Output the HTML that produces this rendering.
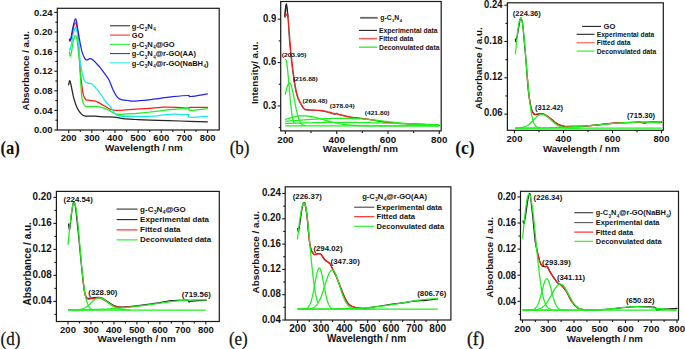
<!DOCTYPE html>
<html><head><meta charset="utf-8"><style>
html,body{margin:0;padding:0;background:#fff;}
body{width:685px;height:349px;overflow:hidden;}
svg{display:block;}
</style></head><body>
<svg width="685" height="349" viewBox="0 0 685 349"><rect x="57.3" y="8.3" width="161.9" height="121.7" fill="none" stroke="#1a1a1a" stroke-width="1.2"/>
<line x1="54.3" y1="130" x2="57.3" y2="130" stroke="#1a1a1a" stroke-width="1.1"/>
<text transform="translate(52.5 133.14) scale(0.96 1)" font-family='"Liberation Sans", sans-serif' font-size="9.9" font-weight="bold" text-anchor="end" fill="#111">0.00</text>
<line x1="54.3" y1="110.4" x2="57.3" y2="110.4" stroke="#1a1a1a" stroke-width="1.1"/>
<text transform="translate(52.5 113.54) scale(0.96 1)" font-family='"Liberation Sans", sans-serif' font-size="9.9" font-weight="bold" text-anchor="end" fill="#111">0.04</text>
<line x1="54.3" y1="90.8" x2="57.3" y2="90.8" stroke="#1a1a1a" stroke-width="1.1"/>
<text transform="translate(52.5 93.94) scale(0.96 1)" font-family='"Liberation Sans", sans-serif' font-size="9.9" font-weight="bold" text-anchor="end" fill="#111">0.08</text>
<line x1="54.3" y1="71.2" x2="57.3" y2="71.2" stroke="#1a1a1a" stroke-width="1.1"/>
<text transform="translate(52.5 74.34) scale(0.96 1)" font-family='"Liberation Sans", sans-serif' font-size="9.9" font-weight="bold" text-anchor="end" fill="#111">0.12</text>
<line x1="54.3" y1="51.6" x2="57.3" y2="51.6" stroke="#1a1a1a" stroke-width="1.1"/>
<text transform="translate(52.5 54.74) scale(0.96 1)" font-family='"Liberation Sans", sans-serif' font-size="9.9" font-weight="bold" text-anchor="end" fill="#111">0.16</text>
<line x1="54.3" y1="32" x2="57.3" y2="32" stroke="#1a1a1a" stroke-width="1.1"/>
<text transform="translate(52.5 35.14) scale(0.96 1)" font-family='"Liberation Sans", sans-serif' font-size="9.9" font-weight="bold" text-anchor="end" fill="#111">0.20</text>
<line x1="54.3" y1="12.4" x2="57.3" y2="12.4" stroke="#1a1a1a" stroke-width="1.1"/>
<text transform="translate(52.5 15.54) scale(0.96 1)" font-family='"Liberation Sans", sans-serif' font-size="9.9" font-weight="bold" text-anchor="end" fill="#111">0.24</text>
<line x1="55.3" y1="120.2" x2="57.3" y2="120.2" stroke="#1a1a1a" stroke-width="1.1"/>
<line x1="55.3" y1="100.6" x2="57.3" y2="100.6" stroke="#1a1a1a" stroke-width="1.1"/>
<line x1="55.3" y1="81" x2="57.3" y2="81" stroke="#1a1a1a" stroke-width="1.1"/>
<line x1="55.3" y1="61.4" x2="57.3" y2="61.4" stroke="#1a1a1a" stroke-width="1.1"/>
<line x1="55.3" y1="41.8" x2="57.3" y2="41.8" stroke="#1a1a1a" stroke-width="1.1"/>
<line x1="55.3" y1="22.2" x2="57.3" y2="22.2" stroke="#1a1a1a" stroke-width="1.1"/>
<line x1="68.7" y1="130" x2="68.7" y2="133" stroke="#1a1a1a" stroke-width="1.1"/>
<text x="68.7" y="141.2" font-family='"Liberation Sans", sans-serif' font-size="9.5" font-weight="bold" text-anchor="middle" fill="#111">200</text>
<line x1="91.85" y1="130" x2="91.85" y2="133" stroke="#1a1a1a" stroke-width="1.1"/>
<text x="91.85" y="141.2" font-family='"Liberation Sans", sans-serif' font-size="9.5" font-weight="bold" text-anchor="middle" fill="#111">300</text>
<line x1="115" y1="130" x2="115" y2="133" stroke="#1a1a1a" stroke-width="1.1"/>
<text x="115" y="141.2" font-family='"Liberation Sans", sans-serif' font-size="9.5" font-weight="bold" text-anchor="middle" fill="#111">400</text>
<line x1="138.15" y1="130" x2="138.15" y2="133" stroke="#1a1a1a" stroke-width="1.1"/>
<text x="138.15" y="141.2" font-family='"Liberation Sans", sans-serif' font-size="9.5" font-weight="bold" text-anchor="middle" fill="#111">500</text>
<line x1="161.3" y1="130" x2="161.3" y2="133" stroke="#1a1a1a" stroke-width="1.1"/>
<text x="161.3" y="141.2" font-family='"Liberation Sans", sans-serif' font-size="9.5" font-weight="bold" text-anchor="middle" fill="#111">600</text>
<line x1="184.45" y1="130" x2="184.45" y2="133" stroke="#1a1a1a" stroke-width="1.1"/>
<text x="184.45" y="141.2" font-family='"Liberation Sans", sans-serif' font-size="9.5" font-weight="bold" text-anchor="middle" fill="#111">700</text>
<line x1="207.6" y1="130" x2="207.6" y2="133" stroke="#1a1a1a" stroke-width="1.1"/>
<text x="207.6" y="141.2" font-family='"Liberation Sans", sans-serif' font-size="9.5" font-weight="bold" text-anchor="middle" fill="#111">800</text>
<line x1="80.28" y1="130" x2="80.28" y2="132" stroke="#1a1a1a" stroke-width="1.1"/>
<line x1="103.43" y1="130" x2="103.43" y2="132" stroke="#1a1a1a" stroke-width="1.1"/>
<line x1="126.58" y1="130" x2="126.58" y2="132" stroke="#1a1a1a" stroke-width="1.1"/>
<line x1="149.73" y1="130" x2="149.73" y2="132" stroke="#1a1a1a" stroke-width="1.1"/>
<line x1="172.88" y1="130" x2="172.88" y2="132" stroke="#1a1a1a" stroke-width="1.1"/>
<line x1="196.03" y1="130" x2="196.03" y2="132" stroke="#1a1a1a" stroke-width="1.1"/>
<text x="105" y="150.9" font-family='"Liberation Sans", sans-serif' font-size="9.85" font-weight="bold" text-anchor="start" fill="#111">Wavelength / nm</text>
<text x="28.6" y="70.8" font-family='"Liberation Sans", sans-serif' font-size="9.5" font-weight="bold" text-anchor="middle" fill="#111" transform="rotate(-90 28.6 70.8)">Absorbance / a.u.</text>
<text transform="translate(0.4 153.6) scale(0.9 1)" font-family='"Liberation Serif", serif' font-size="18.5" font-weight="bold" text-anchor="start" fill="#111">(a)</text>
<path d="M68.6,84.9 C68.8,84.18 69.37,80.45 69.8,80.6 C70.23,80.75 70.55,82.93 71.2,85.8 C71.85,88.67 72.7,94.1 73.7,97.8 C74.7,101.5 75.9,105.28 77.2,108 C78.5,110.72 80.08,112.75 81.5,114.1 C82.92,115.45 83.45,115.75 85.7,116.1 C87.95,116.45 91.78,116.08 95,116.2 C98.22,116.32 101.5,116.62 105,116.8 C108.5,116.98 113.02,117 116,117.3 C118.98,117.6 119.6,118.23 122.9,118.6 C126.2,118.97 131.28,119.23 135.8,119.5 C140.32,119.77 142.63,119.95 150,120.2 C157.37,120.45 170.43,120.73 180,121 C189.57,121.27 202.83,121.67 207.4,121.8" fill="none" stroke="#222" stroke-width="1.25" stroke-linejoin="round" stroke-linecap="round" opacity="1.0"/>
<path d="M69.4,39.8 C69.52,40.03 69.75,41.58 70.1,41.2 C70.45,40.82 70.93,39.78 71.5,37.5 C72.07,35.22 72.88,29.95 73.5,27.5 C74.12,25.05 74.65,23.05 75.2,22.8 C75.75,22.55 76.33,23.8 76.8,26 C77.27,28.2 77.6,31.17 78,36 C78.4,40.83 78.83,49.33 79.2,55 C79.57,60.67 79.82,65.45 80.2,70 C80.58,74.55 81,78.25 81.5,82.3 C82,86.35 82.5,91.43 83.2,94.3 C83.9,97.17 84.57,98.5 85.7,99.5 C86.83,100.5 88.57,100.07 90,100.3 C91.43,100.53 93,100.6 94.3,100.9 C95.6,101.2 96.52,101.48 97.8,102.1 C99.08,102.72 100.7,103.87 102,104.6 C103.3,105.33 104.27,105.73 105.6,106.5 C106.93,107.27 108.4,108.55 110,109.2 C111.6,109.85 113.05,110.25 115.2,110.4 C117.35,110.55 119.47,110.3 122.9,110.1 C126.33,109.9 131.28,109.5 135.8,109.2 C140.32,108.9 145.3,108.63 150,108.3 C154.7,107.97 159.4,107.35 164,107.2 C168.6,107.05 173.68,107.27 177.6,107.4 C181.52,107.53 185.35,108 187.5,108 C189.65,108 187.18,107.5 190.5,107.4 C193.82,107.3 204.58,107.4 207.4,107.4" fill="none" stroke="#ff1a1a" stroke-width="1.25" stroke-linejoin="round" stroke-linecap="round" opacity="1.0"/>
<path d="M69.4,52 C69.53,52.72 69.85,56.3 70.2,56.3 C70.55,56.3 70.95,54.72 71.5,52 C72.05,49.28 72.83,42.78 73.5,40 C74.17,37.22 74.92,35.3 75.5,35.3 C76.08,35.3 76.53,37.33 77,40 C77.47,42.67 77.87,47.47 78.3,51.3 C78.73,55.13 79.07,55.83 79.6,63 C80.13,70.17 80.9,87.65 81.5,94.3 C82.1,100.95 82.5,100.88 83.2,102.9 C83.9,104.92 84.57,105.77 85.7,106.4 C86.83,107.03 88.42,106.7 90,106.7 C91.58,106.7 93.48,106.32 95.2,106.4 C96.92,106.48 98.5,106.78 100.3,107.2 C102.1,107.62 104.38,108.28 106,108.9 C107.62,109.52 108.18,110.02 110,110.9 C111.82,111.78 114.03,113.7 116.9,114.2 C119.77,114.7 123.33,114.08 127.2,113.9 C131.07,113.72 136.3,113.42 140.1,113.1 C143.9,112.78 146.63,112.37 150,112 C153.37,111.63 156.93,111.3 160.3,110.9 C163.67,110.5 165.67,110.02 170.2,109.6 C174.73,109.18 184.37,108.53 187.5,108.4 C190.63,108.27 188.5,108.48 189,108.8 C189.5,109.12 187.43,110.32 190.5,110.3 C193.57,110.28 204.58,108.97 207.4,108.7" fill="none" stroke="#1cf01c" stroke-width="1.25" stroke-linejoin="round" stroke-linecap="round" opacity="1.0"/>
<path d="M69.4,49.1 C69.5,49.25 69.65,50.85 70,50 C70.35,49.15 70.92,46.83 71.5,44 C72.08,41.17 72.83,35.73 73.5,33 C74.17,30.27 74.92,27.93 75.5,27.6 C76.08,27.27 76.5,28.6 77,31 C77.5,33.4 78,37.17 78.5,42 C79,46.83 79.6,56 80,60 C80.4,64 80.52,63.72 80.9,66 C81.28,68.28 81.63,71.12 82.3,73.7 C82.97,76.28 83.9,79.92 84.9,81.5 C85.9,83.08 87.15,82.78 88.3,83.2 C89.45,83.62 90.65,83.28 91.8,84 C92.95,84.72 93.78,85.92 95.2,87.5 C96.62,89.08 98.57,91.17 100.3,93.5 C102.03,95.83 103.98,99.38 105.6,101.5 C107.22,103.62 108.7,104.57 110,106.2 C111.3,107.83 112.25,109.78 113.4,111.3 C114.55,112.82 114.6,114.45 116.9,115.3 C119.2,116.15 123.35,116.23 127.2,116.4 C131.05,116.57 136.2,116.32 140,116.3 C143.8,116.28 147.02,116.38 150,116.3 C152.98,116.22 154.73,116.13 157.9,115.8 C161.07,115.47 164.07,114.5 169,114.3 C173.93,114.1 184.23,114.45 187.5,114.6 C190.77,114.75 188.1,114.75 188.6,115.2 C189.1,115.65 187.37,117.1 190.5,117.3 C193.63,117.5 204.58,116.55 207.4,116.4" fill="none" stroke="#14eaea" stroke-width="1.25" stroke-linejoin="round" stroke-linecap="round" opacity="1.0"/>
<path d="M69.4,39.1 C69.5,39.33 69.73,40.68 70,40.5 C70.27,40.32 70.5,40.25 71,38 C71.5,35.75 72.3,30.17 73,27 C73.7,23.83 74.62,19.92 75.2,19 C75.78,18.08 76.1,19.95 76.5,21.5 C76.9,23.05 77.05,25.02 77.6,28.3 C78.15,31.58 79.08,37.37 79.8,41.2 C80.52,45.03 81.07,48.43 81.9,51.3 C82.73,54.17 83.97,56.95 84.8,58.4 C85.63,59.85 86.07,59.95 86.9,60 C87.73,60.05 88.83,58.73 89.8,58.7 C90.77,58.67 91.5,58.92 92.7,59.8 C93.9,60.68 95.78,62.73 97,64 C98.22,65.27 98.57,65.58 100,67.4 C101.43,69.22 104.05,72.72 105.6,74.9 C107.15,77.08 108.07,78.02 109.3,80.5 C110.53,82.98 111.77,87.17 113,89.8 C114.23,92.43 115.45,94.72 116.7,96.3 C117.95,97.88 118.63,98.6 120.5,99.3 C122.37,100 125.63,100.18 127.9,100.5 C130.17,100.82 131.35,101.23 134.1,101.2 C136.85,101.17 140.03,100.78 144.4,100.3 C148.77,99.82 155.58,98.9 160.3,98.3 C165.02,97.7 168.07,97.17 172.7,96.7 C177.33,96.23 185.13,95.53 188.1,95.5 C191.07,95.47 187.28,96.77 190.5,96.5 C193.72,96.23 204.58,94.33 207.4,93.9" fill="none" stroke="#2323ee" stroke-width="1.25" stroke-linejoin="round" stroke-linecap="round" opacity="1.0"/>
<line x1="110" y1="25.8" x2="130" y2="25.8" stroke="#222" stroke-width="1.0"/>
<text x="131.8" y="28.5" font-family='"Liberation Sans", sans-serif' font-size="7.5" font-weight="bold" text-anchor="start" fill="#111">g-C<tspan font-size="4.5" dx="0.45" dy="2.4">3</tspan><tspan dx="0" dy="-2.4">N</tspan><tspan font-size="4.5" dx="0.45" dy="2.4">4</tspan></text>
<line x1="110" y1="35.1" x2="130" y2="35.1" stroke="#ff1a1a" stroke-width="1.0"/>
<text x="131.8" y="37.8" font-family='"Liberation Sans", sans-serif' font-size="7.5" font-weight="bold" text-anchor="start" fill="#111">GO</text>
<line x1="110" y1="44.3" x2="130" y2="44.3" stroke="#1cf01c" stroke-width="1.0"/>
<text x="131.8" y="47" font-family='"Liberation Sans", sans-serif' font-size="7.5" font-weight="bold" text-anchor="start" fill="#111">g-C<tspan font-size="4.5" dx="0.45" dy="2.4">3</tspan><tspan dx="0" dy="-2.4">N</tspan><tspan font-size="4.5" dx="0.45" dy="2.4">4</tspan><tspan dx="0" dy="-2.4"><tspan stroke="#111" stroke-width="0.12">@</tspan>GO</tspan></text>
<line x1="110" y1="53.6" x2="130" y2="53.6" stroke="#2323ee" stroke-width="1.0"/>
<text x="131.8" y="56.3" font-family='"Liberation Sans", sans-serif' font-size="7.5" font-weight="bold" text-anchor="start" fill="#111">g-C<tspan font-size="4.5" dx="0.45" dy="2.4">3</tspan><tspan dx="0" dy="-2.4">N</tspan><tspan font-size="4.5" dx="0.45" dy="2.4">4</tspan><tspan dx="0" dy="-2.4"><tspan stroke="#111" stroke-width="0.12">@</tspan>r-GO(AA)</tspan></text>
<line x1="110" y1="62.9" x2="130" y2="62.9" stroke="#14eaea" stroke-width="1.0"/>
<text x="131.8" y="65.6" font-family='"Liberation Sans", sans-serif' font-size="7.5" font-weight="bold" text-anchor="start" fill="#111">g-C<tspan font-size="4.5" dx="0.45" dy="2.4">3</tspan><tspan dx="0" dy="-2.4">N</tspan><tspan font-size="4.5" dx="0.45" dy="2.4">4</tspan><tspan dx="0" dy="-2.4"><tspan stroke="#111" stroke-width="0.12">@</tspan>r-GO(NaBH</tspan><tspan font-size="4.5" dx="0.45" dy="2.4">4</tspan><tspan dx="0" dy="-2.4">)</tspan></text>
<rect x="280.7" y="1.5" width="160.5" height="129.4" fill="none" stroke="#1a1a1a" stroke-width="1.2"/>
<line x1="277.7" y1="105.9" x2="280.7" y2="105.9" stroke="#1a1a1a" stroke-width="1.1"/>
<text transform="translate(276.3 108.71) scale(0.85 1)" font-family='"Liberation Sans", sans-serif' font-size="11.2" font-weight="bold" text-anchor="end" fill="#111">0.3</text>
<line x1="277.7" y1="62.55" x2="280.7" y2="62.55" stroke="#1a1a1a" stroke-width="1.1"/>
<text transform="translate(276.3 65.36) scale(0.85 1)" font-family='"Liberation Sans", sans-serif' font-size="11.2" font-weight="bold" text-anchor="end" fill="#111">0.6</text>
<line x1="277.7" y1="19.2" x2="280.7" y2="19.2" stroke="#1a1a1a" stroke-width="1.1"/>
<text transform="translate(276.3 22.01) scale(0.85 1)" font-family='"Liberation Sans", sans-serif' font-size="11.2" font-weight="bold" text-anchor="end" fill="#111">0.9</text>
<line x1="278.7" y1="127.58" x2="280.7" y2="127.58" stroke="#1a1a1a" stroke-width="1.1"/>
<line x1="278.7" y1="84.22" x2="280.7" y2="84.22" stroke="#1a1a1a" stroke-width="1.1"/>
<line x1="278.7" y1="40.88" x2="280.7" y2="40.88" stroke="#1a1a1a" stroke-width="1.1"/>
<line x1="285.4" y1="130.9" x2="285.4" y2="133.9" stroke="#1a1a1a" stroke-width="1.1"/>
<text x="285.4" y="143" font-family='"Liberation Sans", sans-serif' font-size="9.8" font-weight="bold" text-anchor="middle" fill="#111">200</text>
<line x1="336.7" y1="130.9" x2="336.7" y2="133.9" stroke="#1a1a1a" stroke-width="1.1"/>
<text x="336.7" y="143" font-family='"Liberation Sans", sans-serif' font-size="9.8" font-weight="bold" text-anchor="middle" fill="#111">400</text>
<line x1="388" y1="130.9" x2="388" y2="133.9" stroke="#1a1a1a" stroke-width="1.1"/>
<text x="388" y="143" font-family='"Liberation Sans", sans-serif' font-size="9.8" font-weight="bold" text-anchor="middle" fill="#111">600</text>
<line x1="439.3" y1="130.9" x2="439.3" y2="133.9" stroke="#1a1a1a" stroke-width="1.1"/>
<text x="439.3" y="143" font-family='"Liberation Sans", sans-serif' font-size="9.8" font-weight="bold" text-anchor="middle" fill="#111">800</text>
<line x1="311.05" y1="130.9" x2="311.05" y2="132.9" stroke="#1a1a1a" stroke-width="1.1"/>
<line x1="362.35" y1="130.9" x2="362.35" y2="132.9" stroke="#1a1a1a" stroke-width="1.1"/>
<line x1="413.65" y1="130.9" x2="413.65" y2="132.9" stroke="#1a1a1a" stroke-width="1.1"/>
<text x="322.8" y="151.5" font-family='"Liberation Sans", sans-serif' font-size="9.85" font-weight="bold" text-anchor="start" fill="#111">Wavelength/ nm</text>
<text x="258.4" y="72.8" font-family='"Liberation Sans", sans-serif' font-size="9.8" font-weight="bold" text-anchor="middle" fill="#111" transform="rotate(-90 258.4 72.8)">Intensity/ a.u.</text>
<text transform="translate(229.7 153.6) scale(0.92 1)" font-family='"Liberation Serif", serif' font-size="18.5" font-weight="normal" text-anchor="start" fill="#111" stroke="#111" stroke-width="0.25">(b)</text>
<path d="M284.55,16.3 C284.67,15.08 285,10.95 285.25,9 C285.5,7.05 285.78,4.6 286.05,4.6 C286.32,4.6 286.53,6.77 286.85,9 C287.17,11.23 287.53,12.83 287.95,18 C288.37,23.17 288.9,34 289.35,40 C289.8,46 290.03,48.25 290.65,54 C291.27,59.75 292.3,68.83 293.05,74.5 C293.8,80.17 294.47,84.33 295.15,88 C295.83,91.67 296.45,94.22 297.15,96.5 C297.85,98.78 298.65,100.23 299.35,101.7 C300.05,103.17 300.68,104.13 301.35,105.3 C302.02,106.47 302.72,107.93 303.35,108.7 C303.98,109.47 304.1,109.65 305.15,109.9 C306.2,110.15 307.1,110.07 309.65,110.2 C312.2,110.33 317.22,110.27 320.45,110.7 C323.68,111.13 326.75,112.18 329.05,112.8 C331.35,113.42 333.12,114.17 334.25,114.4 C335.38,114.63 335.4,114.47 335.85,114.2 C336.3,113.93 336.58,112.8 336.95,112.8 C337.32,112.8 336.15,113.53 338.05,114.2 C339.95,114.87 344.58,116.1 348.35,116.8 C352.12,117.5 356.77,117.9 360.65,118.4 C364.53,118.9 367.17,119.12 371.65,119.8 C376.13,120.48 382.05,121.87 387.55,122.5 C393.05,123.13 398.92,123.3 404.65,123.6 C410.38,123.9 416.23,124.03 421.95,124.3 C427.67,124.57 436.12,125.05 438.95,125.2" fill="none" stroke="#222" stroke-width="0.8" stroke-linejoin="round" stroke-linecap="round" opacity="1.0"/>
<path d="M284.9,16.8 C285,15.58 285.27,11.63 285.5,9.5 C285.73,7.37 286.03,4.25 286.3,4 C286.57,3.75 286.82,5.92 287.1,8 C287.38,10.08 287.85,15.08 288,16.5" fill="none" stroke="#222" stroke-width="1.25" stroke-linejoin="round" stroke-linecap="round" opacity="1.0"/>
<path d="M285.1,17 C285.3,16.7 285.92,15.65 286.3,15.2 C286.68,14.75 287.03,13.17 287.4,14.3 C287.77,15.43 288.08,17.72 288.5,22 C288.92,26.28 289.45,34.67 289.9,40 C290.35,45.33 290.58,48.25 291.2,54 C291.82,59.75 292.85,68.83 293.6,74.5 C294.35,80.17 295.02,84.33 295.7,88 C296.38,91.67 297,94.25 297.7,96.5 C298.4,98.75 299.2,100.08 299.9,101.5 C300.6,102.92 301.23,103.87 301.9,105 C302.57,106.13 303.3,107.57 303.9,108.3 C304.5,109.03 304.48,109.13 305.5,109.4 C306.52,109.67 307.45,109.73 310,109.9 C312.55,110.07 317.57,110.02 320.8,110.4 C324.03,110.78 327.1,111.67 329.4,112.2 C331.7,112.73 332.83,113.2 334.6,113.6 C336.37,114 337.65,114.07 340,114.6 C342.35,115.13 345.2,116.17 348.7,116.8 C352.2,117.43 357.12,117.9 361,118.4 C364.88,118.9 367.52,119.12 372,119.8 C376.48,120.48 382.4,121.85 387.9,122.5 C393.4,123.15 399.27,123.38 405,123.7 C410.73,124.02 416.58,124.13 422.3,124.4 C428.02,124.67 436.47,125.15 439.3,125.3" fill="none" stroke="#ff1a1a" stroke-width="1.2" stroke-linejoin="round" stroke-linecap="round" opacity="1.0"/>
<path d="M285.2,59.76 L285.7,59.33 L286.2,60.33 L286.7,62.7 L287.2,66.28 L287.7,70.87 L288.2,76.18 L288.7,81.95 L289.2,87.88 L289.7,93.71 L290.2,99.23 L290.7,104.28 L291.2,108.74 L291.7,112.58 L292.2,115.78 L292.7,118.37 L293.2,120.42 L293.7,122 L294.2,123.18" fill="none" stroke="#1cf01c" stroke-width="1.25" stroke-linejoin="round"/>
<path d="M285.2,94.66 L285.7,92.41 L286.2,90.31 L286.7,88.4 L287.2,86.72 L287.7,85.32 L288.2,84.23 L288.7,83.47 L289.2,83.07 L289.7,83.04 L290.2,83.44 L290.7,84.27 L291.2,85.51 L291.7,87.11 L292.2,89.04 L292.7,91.24 L293.2,93.64 L293.7,96.19 L294.2,98.82 L294.7,101.47 L295.2,104.09 L295.7,106.63 L296.2,109.06 L296.7,111.32 L297.2,113.42 L297.7,115.32 L298.2,117.03 L298.7,118.54 L299.2,119.85 L299.7,120.99 L300.2,121.95 L300.7,122.75 L301.2,123.42 L301.7,123.97 L302.2,124.41 L302.7,124.76 L303.2,125.04 L303.7,125.26 L304.2,125.42 L304.7,125.55 L305.2,125.65 L305.7,125.72" fill="none" stroke="#1cf01c" stroke-width="1.25" stroke-linejoin="round"/>
<path d="M285.2,119.6 L285.7,119.43 L286.2,119.26 L286.7,119.1 L287.2,118.93 L287.7,118.76 L288.2,118.6 L288.7,118.44 L289.2,118.28 L289.7,118.12 L290.2,117.96 L290.7,117.81 L291.2,117.66 L291.7,117.52 L292.2,117.38 L292.7,117.24 L293.2,117.11 L293.7,116.99 L294.2,116.87 L294.7,116.75 L295.2,116.64 L295.7,116.54 L296.2,116.44 L296.7,116.35 L297.2,116.26 L297.7,116.18 L298.2,116.11 L298.7,116.05 L299.2,115.99 L299.7,115.94 L300.2,115.9 L300.7,115.86 L301.2,115.84 L301.7,115.82 L302.2,115.8 L302.7,115.8 L303.2,115.8 L303.7,115.81 L304.2,115.83 L304.7,115.85 L305.2,115.87 L305.7,115.9 L306.2,115.94 L306.7,115.98 L307.2,116.03 L307.7,116.08 L308.2,116.14 L308.7,116.2 L309.2,116.27 L309.7,116.35 L310.2,116.42 L310.7,116.51 L311.2,116.59 L311.7,116.69 L312.2,116.78 L312.7,116.88 L313.2,116.99 L313.7,117.09 L314.2,117.21 L314.7,117.32 L315.2,117.44 L315.7,117.56 L316.2,117.69 L316.7,117.81 L317.2,117.94 L317.7,118.07 L318.2,118.21 L318.7,118.34 L319.2,118.48 L319.7,118.62 L320.2,118.76 L320.7,118.91 L321.2,119.05 L321.7,119.19 L322.2,119.34 L322.7,119.48 L323.2,119.63 L323.7,119.77 L324.2,119.92 L324.7,120.07 L325.2,120.21 L325.7,120.36 L326.2,120.5 L326.7,120.64 L327.2,120.79 L327.7,120.93 L328.2,121.07 L328.7,121.21 L329.2,121.34 L329.7,121.48 L330.2,121.62 L330.7,121.75 L331.2,121.88 L331.7,122.01 L332.2,122.13 L332.7,122.26 L333.2,122.38 L333.7,122.5 L334.2,122.62 L334.7,122.74 L335.2,122.85 L335.7,122.96 L336.2,123.07 L336.7,123.18 L337.2,123.28 L337.7,123.38 L338.2,123.48 L338.7,123.58 L339.2,123.67 L339.7,123.76 L340.2,123.85 L340.7,123.94 L341.2,124.02 L341.7,124.1 L342.2,124.18 L342.7,124.25 L343.2,124.33 L343.7,124.4 L344.2,124.47 L344.7,124.53 L345.2,124.6 L345.7,124.66 L346.2,124.72 L346.7,124.78 L347.2,124.83 L347.7,124.88 L348.2,124.93 L348.7,124.98 L349.2,125.03 L349.7,125.07 L350.2,125.12 L350.7,125.16 L351.2,125.2 L351.7,125.24 L352.2,125.27 L352.7,125.31 L353.2,125.34 L353.7,125.37 L354.2,125.4 L354.7,125.43 L355.2,125.46 L355.7,125.48 L356.2,125.51 L356.7,125.53 L357.2,125.55 L357.7,125.57 L358.2,125.59 L358.7,125.61 L359.2,125.63 L359.7,125.65 L360.2,125.66 L360.7,125.68 L361.2,125.69 L361.7,125.7 L362.2,125.72 L362.7,125.73 L363.2,125.74 L363.7,125.75 L364.2,125.76 L364.7,125.77 L365.2,125.78 L365.7,125.79 L366.2,125.8 L366.7,125.8 L367.2,125.81 L367.7,125.82 L368.2,125.82 L368.7,125.83 L369.2,125.83 L369.7,125.84 L370.2,125.84 L370.7,125.85 L371.2,125.85 L371.7,125.85 L372.2,125.86 L372.7,125.86 L373.2,125.86 L373.7,125.87 L374.2,125.87 L374.7,125.87 L375.2,125.87 L375.7,125.88 L376.2,125.88 L376.7,125.88 L377.2,125.88 L377.7,125.88 L378.2,125.88 L378.7,125.89 L379.2,125.89 L379.7,125.89 L380.2,125.89 L380.7,125.89 L381.2,125.89 L381.7,125.89 L382.2,125.89 L382.7,125.89 L383.2,125.89 L383.7,125.89 L384.2,125.89 L384.7,125.9 L385.2,125.9 L385.7,125.9 L386.2,125.9 L386.7,125.9 L387.2,125.9 L387.7,125.9 L388.2,125.9 L388.7,125.9 L389.2,125.9 L389.7,125.9 L390.2,125.9 L390.7,125.9 L391.2,125.9 L391.7,125.9 L392.2,125.9 L392.7,125.9 L393.2,125.9 L393.7,125.9 L394.2,125.9 L394.7,125.9 L395.2,125.9 L395.7,125.9 L396.2,125.9 L396.7,125.9 L397.2,125.9 L397.7,125.9 L398.2,125.9 L398.7,125.9 L399.2,125.9 L399.7,125.9 L400.2,125.9 L400.7,125.9 L401.2,125.9 L401.7,125.9 L402.2,125.9 L402.7,125.9 L403.2,125.9 L403.7,125.9 L404.2,125.9 L404.7,125.9 L405.2,125.9 L405.7,125.9 L406.2,125.9 L406.7,125.9 L407.2,125.9 L407.7,125.9 L408.2,125.9 L408.7,125.9 L409.2,125.9 L409.7,125.9 L410.2,125.9 L410.7,125.9 L411.2,125.9 L411.7,125.9 L412.2,125.9 L412.7,125.9 L413.2,125.9 L413.7,125.9 L414.2,125.9 L414.7,125.9 L415.2,125.9 L415.7,125.9 L416.2,125.9 L416.7,125.9 L417.2,125.9 L417.7,125.9 L418.2,125.9 L418.7,125.9 L419.2,125.9 L419.7,125.9 L420.2,125.9 L420.7,125.9 L421.2,125.9 L421.7,125.9 L422.2,125.9 L422.7,125.9 L423.2,125.9 L423.7,125.9 L424.2,125.9 L424.7,125.9 L425.2,125.9 L425.7,125.9 L426.2,125.9 L426.7,125.9 L427.2,125.9 L427.7,125.9 L428.2,125.9 L428.7,125.9 L429.2,125.9 L429.7,125.9 L430.2,125.9 L430.7,125.9 L431.2,125.9 L431.7,125.9 L432.2,125.9 L432.7,125.9 L433.2,125.9 L433.7,125.9 L434.2,125.9 L434.7,125.9 L435.2,125.9 L435.7,125.9 L436.2,125.9 L436.7,125.9 L437.2,125.9 L437.7,125.9 L438.2,125.9 L438.7,125.9 L439.2,125.9" fill="none" stroke="#1cf01c" stroke-width="1.25" stroke-linejoin="round"/>
<path d="M285.2,121.28 L285.7,121.24 L286.2,121.2 L286.7,121.16 L287.2,121.12 L287.7,121.08 L288.2,121.04 L288.7,121.01 L289.2,120.97 L289.7,120.93 L290.2,120.89 L290.7,120.85 L291.2,120.82 L291.7,120.78 L292.2,120.74 L292.7,120.7 L293.2,120.66 L293.7,120.63 L294.2,120.59 L294.7,120.55 L295.2,120.51 L295.7,120.48 L296.2,120.44 L296.7,120.4 L297.2,120.37 L297.7,120.33 L298.2,120.29 L298.7,120.26 L299.2,120.22 L299.7,120.18 L300.2,120.15 L300.7,120.11 L301.2,120.08 L301.7,120.04 L302.2,120.01 L302.7,119.97 L303.2,119.94 L303.7,119.9 L304.2,119.87 L304.7,119.83 L305.2,119.8 L305.7,119.77 L306.2,119.73 L306.7,119.7 L307.2,119.67 L307.7,119.64 L308.2,119.6 L308.7,119.57 L309.2,119.54 L309.7,119.51 L310.2,119.48 L310.7,119.45 L311.2,119.42 L311.7,119.38 L312.2,119.35 L312.7,119.33 L313.2,119.3 L313.7,119.27 L314.2,119.24 L314.7,119.21 L315.2,119.18 L315.7,119.15 L316.2,119.13 L316.7,119.1 L317.2,119.07 L317.7,119.05 L318.2,119.02 L318.7,119 L319.2,118.97 L319.7,118.95 L320.2,118.92 L320.7,118.9 L321.2,118.87 L321.7,118.85 L322.2,118.83 L322.7,118.81 L323.2,118.79 L323.7,118.76 L324.2,118.74 L324.7,118.72 L325.2,118.7 L325.7,118.68 L326.2,118.66 L326.7,118.65 L327.2,118.63 L327.7,118.61 L328.2,118.59 L328.7,118.58 L329.2,118.56 L329.7,118.54 L330.2,118.53 L330.7,118.51 L331.2,118.5 L331.7,118.48 L332.2,118.47 L332.7,118.46 L333.2,118.45 L333.7,118.43 L334.2,118.42 L334.7,118.41 L335.2,118.4 L335.7,118.39 L336.2,118.38 L336.7,118.37 L337.2,118.36 L337.7,118.36 L338.2,118.35 L338.7,118.34 L339.2,118.34 L339.7,118.33 L340.2,118.32 L340.7,118.32 L341.2,118.32 L341.7,118.31 L342.2,118.31 L342.7,118.31 L343.2,118.3 L343.7,118.3 L344.2,118.3 L344.7,118.3 L345.2,118.3 L345.7,118.3 L346.2,118.3 L346.7,118.31 L347.2,118.31 L347.7,118.32 L348.2,118.32 L348.7,118.33 L349.2,118.34 L349.7,118.35 L350.2,118.36 L350.7,118.38 L351.2,118.39 L351.7,118.41 L352.2,118.42 L352.7,118.44 L353.2,118.46 L353.7,118.48 L354.2,118.5 L354.7,118.52 L355.2,118.54 L355.7,118.57 L356.2,118.59 L356.7,118.62 L357.2,118.65 L357.7,118.67 L358.2,118.7 L358.7,118.73 L359.2,118.76 L359.7,118.8 L360.2,118.83 L360.7,118.86 L361.2,118.9 L361.7,118.93 L362.2,118.97 L362.7,119.01 L363.2,119.05 L363.7,119.09 L364.2,119.13 L364.7,119.17 L365.2,119.21 L365.7,119.25 L366.2,119.3 L366.7,119.34 L367.2,119.38 L367.7,119.43 L368.2,119.48 L368.7,119.52 L369.2,119.57 L369.7,119.62 L370.2,119.67 L370.7,119.72 L371.2,119.77 L371.7,119.82 L372.2,119.87 L372.7,119.92 L373.2,119.97 L373.7,120.02 L374.2,120.08 L374.7,120.13 L375.2,120.18 L375.7,120.24 L376.2,120.29 L376.7,120.35 L377.2,120.4 L377.7,120.46 L378.2,120.51 L378.7,120.57 L379.2,120.63 L379.7,120.68 L380.2,120.74 L380.7,120.8 L381.2,120.85 L381.7,120.91 L382.2,120.97 L382.7,121.03 L383.2,121.08 L383.7,121.14 L384.2,121.2 L384.7,121.26 L385.2,121.31 L385.7,121.37 L386.2,121.43 L386.7,121.49 L387.2,121.54 L387.7,121.6 L388.2,121.66 L388.7,121.72 L389.2,121.77 L389.7,121.83 L390.2,121.89 L390.7,121.94 L391.2,122 L391.7,122.06 L392.2,122.11 L392.7,122.17 L393.2,122.22 L393.7,122.28 L394.2,122.33 L394.7,122.39 L395.2,122.44 L395.7,122.5 L396.2,122.55 L396.7,122.6 L397.2,122.66 L397.7,122.71 L398.2,122.76 L398.7,122.81 L399.2,122.87 L399.7,122.92 L400.2,122.97 L400.7,123.02 L401.2,123.07 L401.7,123.12 L402.2,123.17 L402.7,123.21 L403.2,123.26 L403.7,123.31 L404.2,123.36 L404.7,123.4 L405.2,123.45 L405.7,123.5 L406.2,123.54 L406.7,123.59 L407.2,123.63 L407.7,123.68 L408.2,123.72 L408.7,123.76 L409.2,123.8 L409.7,123.85 L410.2,123.89 L410.7,123.93 L411.2,123.97 L411.7,124.01 L412.2,124.05 L412.7,124.09 L413.2,124.12 L413.7,124.16 L414.2,124.2 L414.7,124.23 L415.2,124.27 L415.7,124.31 L416.2,124.34 L416.7,124.38 L417.2,124.41 L417.7,124.44 L418.2,124.48 L418.7,124.51 L419.2,124.54 L419.7,124.57 L420.2,124.6 L420.7,124.63 L421.2,124.66 L421.7,124.69 L422.2,124.72 L422.7,124.75 L423.2,124.78 L423.7,124.8 L424.2,124.83 L424.7,124.86 L425.2,124.88 L425.7,124.91 L426.2,124.93 L426.7,124.96 L427.2,124.98 L427.7,125 L428.2,125.03 L428.7,125.05 L429.2,125.07 L429.7,125.09 L430.2,125.11 L430.7,125.13 L431.2,125.15 L431.7,125.17 L432.2,125.19 L432.7,125.21 L433.2,125.23 L433.7,125.25 L434.2,125.27 L434.7,125.29 L435.2,125.3 L435.7,125.32 L436.2,125.34 L436.7,125.35 L437.2,125.37 L437.7,125.38 L438.2,125.4 L438.7,125.41 L439.2,125.43" fill="none" stroke="#1cf01c" stroke-width="1.25" stroke-linejoin="round"/>
<path d="M285.2,123.51 L285.7,123.49 L286.2,123.48 L286.7,123.46 L287.2,123.45 L287.7,123.43 L288.2,123.42 L288.7,123.4 L289.2,123.38 L289.7,123.37 L290.2,123.35 L290.7,123.34 L291.2,123.32 L291.7,123.31 L292.2,123.29 L292.7,123.27 L293.2,123.26 L293.7,123.24 L294.2,123.23 L294.7,123.21 L295.2,123.2 L295.7,123.18 L296.2,123.17 L296.7,123.15 L297.2,123.14 L297.7,123.13 L298.2,123.11 L298.7,123.1 L299.2,123.08 L299.7,123.07 L300.2,123.05 L300.7,123.04 L301.2,123.03 L301.7,123.01 L302.2,123 L302.7,122.98 L303.2,122.97 L303.7,122.96 L304.2,122.94 L304.7,122.93 L305.2,122.92 L305.7,122.91 L306.2,122.89 L306.7,122.88 L307.2,122.87 L307.7,122.85 L308.2,122.84 L308.7,122.83 L309.2,122.82 L309.7,122.81 L310.2,122.79 L310.7,122.78 L311.2,122.77 L311.7,122.76 L312.2,122.75 L312.7,122.74 L313.2,122.73 L313.7,122.72 L314.2,122.71 L314.7,122.7 L315.2,122.69 L315.7,122.68 L316.2,122.67 L316.7,122.66 L317.2,122.65 L317.7,122.64 L318.2,122.63 L318.7,122.62 L319.2,122.61 L319.7,122.6 L320.2,122.59 L320.7,122.58 L321.2,122.57 L321.7,122.57 L322.2,122.56 L322.7,122.55 L323.2,122.54 L323.7,122.54 L324.2,122.53 L324.7,122.52 L325.2,122.51 L325.7,122.51 L326.2,122.5 L326.7,122.5 L327.2,122.49 L327.7,122.48 L328.2,122.48 L328.7,122.47 L329.2,122.47 L329.7,122.46 L330.2,122.46 L330.7,122.45 L331.2,122.45 L331.7,122.44 L332.2,122.44 L332.7,122.44 L333.2,122.43 L333.7,122.43 L334.2,122.43 L334.7,122.42 L335.2,122.42 L335.7,122.42 L336.2,122.41 L336.7,122.41 L337.2,122.41 L337.7,122.41 L338.2,122.41 L338.7,122.4 L339.2,122.4 L339.7,122.4 L340.2,122.4 L340.7,122.4 L341.2,122.4 L341.7,122.4 L342.2,122.4 L342.7,122.4 L343.2,122.4 L343.7,122.4 L344.2,122.4 L344.7,122.4 L345.2,122.4 L345.7,122.41 L346.2,122.41 L346.7,122.41 L347.2,122.41 L347.7,122.41 L348.2,122.42 L348.7,122.42 L349.2,122.42 L349.7,122.42 L350.2,122.43 L350.7,122.43 L351.2,122.43 L351.7,122.44 L352.2,122.44 L352.7,122.45 L353.2,122.45 L353.7,122.46 L354.2,122.46 L354.7,122.47 L355.2,122.47 L355.7,122.48 L356.2,122.48 L356.7,122.49 L357.2,122.49 L357.7,122.5 L358.2,122.51 L358.7,122.51 L359.2,122.52 L359.7,122.53 L360.2,122.53 L360.7,122.54 L361.2,122.55 L361.7,122.56 L362.2,122.56 L362.7,122.57 L363.2,122.58 L363.7,122.59 L364.2,122.6 L364.7,122.61 L365.2,122.62 L365.7,122.63 L366.2,122.63 L366.7,122.64 L367.2,122.65 L367.7,122.66 L368.2,122.67 L368.7,122.68 L369.2,122.69 L369.7,122.7 L370.2,122.71 L370.7,122.73 L371.2,122.74 L371.7,122.75 L372.2,122.76 L372.7,122.77 L373.2,122.78 L373.7,122.79 L374.2,122.8 L374.7,122.82 L375.2,122.83 L375.7,122.84 L376.2,122.85 L376.7,122.86 L377.2,122.88 L377.7,122.89 L378.2,122.9 L378.7,122.92 L379.2,122.93 L379.7,122.94 L380.2,122.96 L380.7,122.97 L381.2,122.98 L381.7,123 L382.2,123.01 L382.7,123.02 L383.2,123.04 L383.7,123.05 L384.2,123.07 L384.7,123.08 L385.2,123.09 L385.7,123.11 L386.2,123.12 L386.7,123.14 L387.2,123.15 L387.7,123.17 L388.2,123.18 L388.7,123.2 L389.2,123.21 L389.7,123.23 L390.2,123.24 L390.7,123.26 L391.2,123.27 L391.7,123.29 L392.2,123.3 L392.7,123.32 L393.2,123.33 L393.7,123.35 L394.2,123.36 L394.7,123.38 L395.2,123.4 L395.7,123.41 L396.2,123.43 L396.7,123.44 L397.2,123.46 L397.7,123.48 L398.2,123.49 L398.7,123.51 L399.2,123.52 L399.7,123.54 L400.2,123.56 L400.7,123.57 L401.2,123.59 L401.7,123.6 L402.2,123.62 L402.7,123.64 L403.2,123.65 L403.7,123.67 L404.2,123.69 L404.7,123.7 L405.2,123.72 L405.7,123.73 L406.2,123.75 L406.7,123.77 L407.2,123.78 L407.7,123.8 L408.2,123.82 L408.7,123.83 L409.2,123.85 L409.7,123.87 L410.2,123.88 L410.7,123.9 L411.2,123.91 L411.7,123.93 L412.2,123.95 L412.7,123.96 L413.2,123.98 L413.7,124 L414.2,124.01 L414.7,124.03 L415.2,124.04 L415.7,124.06 L416.2,124.08 L416.7,124.09 L417.2,124.11 L417.7,124.12 L418.2,124.14 L418.7,124.16 L419.2,124.17 L419.7,124.19 L420.2,124.2 L420.7,124.22 L421.2,124.23 L421.7,124.25 L422.2,124.27 L422.7,124.28 L423.2,124.3 L423.7,124.31 L424.2,124.33 L424.7,124.34 L425.2,124.36 L425.7,124.37 L426.2,124.39 L426.7,124.4 L427.2,124.42 L427.7,124.43 L428.2,124.45 L428.7,124.46 L429.2,124.48 L429.7,124.49 L430.2,124.51 L430.7,124.52 L431.2,124.54 L431.7,124.55 L432.2,124.56 L432.7,124.58 L433.2,124.59 L433.7,124.61 L434.2,124.62 L434.7,124.63 L435.2,124.65 L435.7,124.66 L436.2,124.68 L436.7,124.69 L437.2,124.7 L437.7,124.72 L438.2,124.73 L438.7,124.74 L439.2,124.76" fill="none" stroke="#1cf01c" stroke-width="1.25" stroke-linejoin="round"/>
<path d="M285.2,125.9 L439.3,125.9" fill="none" stroke="#1cf01c" stroke-width="1.25" stroke-linejoin="round"/>
<text transform="translate(281.7 56.9) scale(1.08 1)" font-family='"Liberation Sans", sans-serif' font-size="6.2" font-weight="bold" text-anchor="start" fill="#111">(203.95)</text>
<text transform="translate(292.9 80.7) scale(1.08 1)" font-family='"Liberation Sans", sans-serif' font-size="6.2" font-weight="bold" text-anchor="start" fill="#111">(216.88)</text>
<text transform="translate(302.5 103.2) scale(1.08 1)" font-family='"Liberation Sans", sans-serif' font-size="6.2" font-weight="bold" text-anchor="start" fill="#111">(269.48)</text>
<text transform="translate(329.8 107.7) scale(1.08 1)" font-family='"Liberation Sans", sans-serif' font-size="6.2" font-weight="bold" text-anchor="start" fill="#111">(378.04)</text>
<text transform="translate(364.7 114.6) scale(1.08 1)" font-family='"Liberation Sans", sans-serif' font-size="6.2" font-weight="bold" text-anchor="start" fill="#111">(421.80)</text>
<line x1="360.1" y1="17.8" x2="377.7" y2="17.8" stroke="#666" stroke-width="1.8"/>
<text x="380.3" y="20.3" font-family='"Liberation Sans", sans-serif' font-size="6.8" font-weight="bold" text-anchor="start" fill="#111">g-C<tspan font-size="4.08" dx="0.41" dy="2.18">3</tspan><tspan dx="0" dy="-2.18">N</tspan><tspan font-size="4.08" dx="0.41" dy="2.18">4</tspan></text>
<line x1="359" y1="30.4" x2="377" y2="30.4" stroke="#222" stroke-width="1.1"/>
<text x="379" y="32.8" font-family='"Liberation Sans", sans-serif' font-size="6.8" font-weight="bold" text-anchor="start" fill="#111">Experimental data</text>
<line x1="359" y1="38.6" x2="377" y2="38.6" stroke="#ff5a5a" stroke-width="1.5"/>
<text x="379" y="41" font-family='"Liberation Sans", sans-serif' font-size="6.8" font-weight="bold" text-anchor="start" fill="#111">Fitted data</text>
<line x1="359" y1="47.2" x2="377" y2="47.2" stroke="#44ee44" stroke-width="1.5"/>
<text x="379" y="49.6" font-family='"Liberation Sans", sans-serif' font-size="6.8" font-weight="bold" text-anchor="start" fill="#111">Deconvulated data</text>
<rect x="507.4" y="2.8" width="155.9" height="127.5" fill="none" stroke="#1a1a1a" stroke-width="1.2"/>
<line x1="504.4" y1="5.2" x2="507.4" y2="5.2" stroke="#1a1a1a" stroke-width="1.1"/>
<text transform="translate(502.5 7.55) scale(0.93 1)" font-family='"Liberation Sans", sans-serif' font-size="10.2" font-weight="bold" text-anchor="end" fill="#111">0.24</text>
<line x1="504.4" y1="41.5" x2="507.4" y2="41.5" stroke="#1a1a1a" stroke-width="1.1"/>
<text transform="translate(502.5 43.85) scale(0.93 1)" font-family='"Liberation Sans", sans-serif' font-size="10.2" font-weight="bold" text-anchor="end" fill="#111">0.18</text>
<line x1="504.4" y1="77.8" x2="507.4" y2="77.8" stroke="#1a1a1a" stroke-width="1.1"/>
<text transform="translate(502.5 80.15) scale(0.93 1)" font-family='"Liberation Sans", sans-serif' font-size="10.2" font-weight="bold" text-anchor="end" fill="#111">0.12</text>
<line x1="504.4" y1="114.1" x2="507.4" y2="114.1" stroke="#1a1a1a" stroke-width="1.1"/>
<text transform="translate(502.5 116.45) scale(0.93 1)" font-family='"Liberation Sans", sans-serif' font-size="10.2" font-weight="bold" text-anchor="end" fill="#111">0.06</text>
<line x1="505.4" y1="23.35" x2="507.4" y2="23.35" stroke="#1a1a1a" stroke-width="1.1"/>
<line x1="505.4" y1="59.65" x2="507.4" y2="59.65" stroke="#1a1a1a" stroke-width="1.1"/>
<line x1="505.4" y1="95.95" x2="507.4" y2="95.95" stroke="#1a1a1a" stroke-width="1.1"/>
<line x1="514.5" y1="130.3" x2="514.5" y2="133.3" stroke="#1a1a1a" stroke-width="1.1"/>
<text x="514.5" y="141.8" font-family='"Liberation Sans", sans-serif' font-size="9.5" font-weight="bold" text-anchor="middle" fill="#111">200</text>
<line x1="563.5" y1="130.3" x2="563.5" y2="133.3" stroke="#1a1a1a" stroke-width="1.1"/>
<text x="563.5" y="141.8" font-family='"Liberation Sans", sans-serif' font-size="9.5" font-weight="bold" text-anchor="middle" fill="#111">400</text>
<line x1="612.5" y1="130.3" x2="612.5" y2="133.3" stroke="#1a1a1a" stroke-width="1.1"/>
<text x="612.5" y="141.8" font-family='"Liberation Sans", sans-serif' font-size="9.5" font-weight="bold" text-anchor="middle" fill="#111">600</text>
<line x1="661.5" y1="130.3" x2="661.5" y2="133.3" stroke="#1a1a1a" stroke-width="1.1"/>
<text x="661.5" y="141.8" font-family='"Liberation Sans", sans-serif' font-size="9.5" font-weight="bold" text-anchor="middle" fill="#111">800</text>
<line x1="539" y1="130.3" x2="539" y2="132.3" stroke="#1a1a1a" stroke-width="1.1"/>
<line x1="588" y1="130.3" x2="588" y2="132.3" stroke="#1a1a1a" stroke-width="1.1"/>
<line x1="637" y1="130.3" x2="637" y2="132.3" stroke="#1a1a1a" stroke-width="1.1"/>
<text x="542.9" y="151.6" font-family='"Liberation Sans", sans-serif' font-size="9.7" font-weight="bold" text-anchor="start" fill="#111">Wavelength / nm</text>
<text x="482.5" y="68.4" font-family='"Liberation Sans", sans-serif' font-size="9.9" font-weight="bold" text-anchor="middle" fill="#111" transform="rotate(-90 482.5 68.4)">Absorbance / a.u.</text>
<text transform="translate(455.2 153.6) scale(0.95 1)" font-family='"Liberation Serif", serif' font-size="18.5" font-weight="bold" text-anchor="start" fill="#111">(c)</text>
<path d="M515.4,39.2 C515.48,39.58 515.63,41.83 515.9,41.5 C516.17,41.17 516.47,39.93 517,37.2 C517.53,34.47 518.48,28.3 519.1,25.1 C519.72,21.9 520.13,18.33 520.7,18 C521.27,17.67 521.93,19.57 522.5,23.1 C523.07,26.63 523.57,33.5 524.1,39.2 C524.63,44.9 525.2,51.3 525.7,57.3 C526.2,63.3 526.62,69.38 527.1,75.2 C527.58,81.02 528.08,87.48 528.6,92.2 C529.12,96.92 529.67,100.48 530.2,103.5 C530.73,106.52 531.25,108.63 531.8,110.3 C532.35,111.97 532.95,112.78 533.5,113.5 C534.05,114.22 534.35,114.48 535.1,114.6 C535.85,114.72 536.93,114.37 538,114.2 C539.07,114.03 540.42,113.53 541.5,113.6 C542.58,113.67 543.42,114.08 544.5,114.6 C545.58,115.12 546.75,115.83 548,116.7 C549.25,117.57 550.58,118.68 552,119.8 C553.42,120.92 555.17,122.48 556.5,123.4 C557.83,124.32 558.57,124.78 560,125.3 C561.43,125.82 562.6,126.32 565.1,126.5 C567.6,126.68 571.68,126.47 575,126.4 C578.32,126.33 580.83,126.4 585,126.1 C589.17,125.8 594.85,125.15 600,124.6 C605.15,124.05 610.9,123.15 615.9,122.8 C620.9,122.45 625.98,122.6 630,122.5 C634.02,122.4 637.5,122.08 640,122.2 C642.5,122.32 643.67,123.18 645,123.2 C646.33,123.22 645.23,122.45 648,122.3 C650.77,122.15 659.33,122.3 661.6,122.3" fill="none" stroke="#222" stroke-width="1.25" stroke-linejoin="round" stroke-linecap="round" opacity="1.0"/>
<path d="M527.1,75.2 C527.35,78.03 528.08,87.48 528.6,92.2 C529.12,96.92 529.67,100.48 530.2,103.5 C530.73,106.52 531.25,108.67 531.8,110.3 C532.35,111.93 532.95,112.62 533.5,113.3 C534.05,113.98 534.35,114.3 535.1,114.4 C535.85,114.5 536.93,114.05 538,113.9 C539.07,113.75 540.42,113.42 541.5,113.5 C542.58,113.58 543.42,113.9 544.5,114.4 C545.58,114.9 546.75,115.63 548,116.5 C549.25,117.37 550.58,118.48 552,119.6 C553.42,120.72 555.17,122.28 556.5,123.2 C557.83,124.12 558.57,124.58 560,125.1 C561.43,125.62 562.6,126.08 565.1,126.3 C567.6,126.52 571.68,126.45 575,126.4 C578.32,126.35 580.83,126.3 585,126 C589.17,125.7 594.85,125.13 600,124.6 C605.15,124.07 609.23,123.18 615.9,122.8 C622.57,122.42 632.38,122.4 640,122.3 C647.62,122.2 658,122.22 661.6,122.2" fill="none" stroke="#ff1a1a" stroke-width="1.25" stroke-linejoin="round" stroke-linecap="round" opacity="1.0"/>
<path d="M515.4,54.21 L515.9,48.81 L516.4,43.61 L516.9,38.67 L517.4,34.1 L517.9,29.96 L518.4,26.34 L518.9,23.3 L519.4,20.91 L519.9,19.21 L520.4,18.24 L520.9,18.02 L521.4,18.7 L521.9,20.35 L522.4,22.91 L522.9,26.32 L523.4,30.49 L523.9,35.33 L524.4,40.7 L524.9,46.5 L525.4,52.59 L525.9,58.84 L526.4,65.14 L526.9,71.38 L527.4,77.45 L527.9,83.27 L528.4,88.78 L528.9,93.92 L529.4,98.66 L529.9,102.96 L530.4,106.83 L530.9,110.27 L531.4,113.29 L531.9,115.91 L532.4,118.15 L532.9,120.06 L533.4,121.67 L533.9,123.01 L534.4,124.1 L534.9,125 L535.4,125.72 L535.9,126.3 L536.4,126.75 L536.9,127.11 L537.4,127.38 L537.9,127.6 L538.4,127.76 L538.9,127.88 L539.4,127.97 L539.9,128.03" fill="none" stroke="#1cf01c" stroke-width="1.25" stroke-linejoin="round"/>
<path d="M515.4,128.14 L515.9,128.13 L516.4,128.11 L516.9,128.09 L517.4,128.07 L517.9,128.04 L518.4,128.01 L518.9,127.97 L519.4,127.92 L519.9,127.87 L520.4,127.81 L520.9,127.74 L521.4,127.66 L521.9,127.57 L522.4,127.47 L522.9,127.35 L523.4,127.21 L523.9,127.06 L524.4,126.89 L524.9,126.71 L525.4,126.5 L525.9,126.27 L526.4,126.02 L526.9,125.75 L527.4,125.45 L527.9,125.13 L528.4,124.78 L528.9,124.41 L529.4,124.02 L529.9,123.6 L530.4,123.16 L530.9,122.71 L531.4,122.23 L531.9,121.74 L532.4,121.23 L532.9,120.71 L533.4,120.19 L533.9,119.66 L534.4,119.14 L534.9,118.62 L535.4,118.11 L535.9,117.61 L536.4,117.13 L536.9,116.68 L537.4,116.25 L537.9,115.86 L538.4,115.5 L538.9,115.18 L539.4,114.91 L539.9,114.69 L540.4,114.51 L540.9,114.39 L541.4,114.32 L541.9,114.3 L542.4,114.33 L542.9,114.4 L543.4,114.52 L543.9,114.67 L544.4,114.87 L544.9,115.1 L545.4,115.37 L545.9,115.67 L546.4,116 L546.9,116.36 L547.4,116.75 L547.9,117.15 L548.4,117.58 L548.9,118.02 L549.4,118.47 L549.9,118.93 L550.4,119.39 L550.9,119.86 L551.4,120.33 L551.9,120.79 L552.4,121.25 L552.9,121.7 L553.4,122.14 L553.9,122.57 L554.4,122.98 L554.9,123.38 L555.4,123.76 L555.9,124.13 L556.4,124.47 L556.9,124.8 L557.4,125.11 L557.9,125.39 L558.4,125.66 L558.9,125.91 L559.4,126.15 L559.9,126.36 L560.4,126.56 L560.9,126.74 L561.4,126.9 L561.9,127.05 L562.4,127.19 L562.9,127.31 L563.4,127.42 L563.9,127.52 L564.4,127.61 L564.9,127.68 L565.4,127.75 L565.9,127.81 L566.4,127.87 L566.9,127.92 L567.4,127.96 L567.9,127.99 L568.4,128.02 L568.9,128.05 L569.4,128.07 L569.9,128.09 L570.4,128.11 L570.9,128.13 L571.4,128.14 L571.9,128.15 L572.4,128.16 L572.9,128.16 L573.4,128.17 L573.9,128.18 L574.4,128.18 L574.9,128.18 L575.4,128.19 L575.9,128.19 L576.4,128.19 L576.9,128.19 L577.4,128.19 L577.9,128.2 L578.4,128.2 L578.9,128.2 L579.4,128.2 L579.9,128.2" fill="none" stroke="#1cf01c" stroke-width="1.25" stroke-linejoin="round"/>
<path d="M515.2,128.16 L515.7,128.16 L516.2,128.15 L516.7,128.15 L517.2,128.15 L517.7,128.15 L518.2,128.15 L518.7,128.14 L519.2,128.14 L519.7,128.14 L520.2,128.14 L520.7,128.13 L521.2,128.13 L521.7,128.13 L522.2,128.13 L522.7,128.12 L523.2,128.12 L523.7,128.12 L524.2,128.12 L524.7,128.11 L525.2,128.11 L525.7,128.11 L526.2,128.1 L526.7,128.1 L527.2,128.1 L527.7,128.09 L528.2,128.09 L528.7,128.08 L529.2,128.08 L529.7,128.07 L530.2,128.07 L530.7,128.07 L531.2,128.06 L531.7,128.06 L532.2,128.05 L532.7,128.05 L533.2,128.04 L533.7,128.04 L534.2,128.03 L534.7,128.02 L535.2,128.02 L535.7,128.01 L536.2,128.01 L536.7,128 L537.2,127.99 L537.7,127.99 L538.2,127.98 L538.7,127.97 L539.2,127.96 L539.7,127.96 L540.2,127.95 L540.7,127.94 L541.2,127.93 L541.7,127.92 L542.2,127.92 L542.7,127.91 L543.2,127.9 L543.7,127.89 L544.2,127.88 L544.7,127.87 L545.2,127.86 L545.7,127.85 L546.2,127.84 L546.7,127.83 L547.2,127.82 L547.7,127.8 L548.2,127.79 L548.7,127.78 L549.2,127.77 L549.7,127.76 L550.2,127.74 L550.7,127.73 L551.2,127.72 L551.7,127.7 L552.2,127.69 L552.7,127.68 L553.2,127.66 L553.7,127.65 L554.2,127.63 L554.7,127.61 L555.2,127.6 L555.7,127.58 L556.2,127.57 L556.7,127.55 L557.2,127.53 L557.7,127.51 L558.2,127.5 L558.7,127.48 L559.2,127.46 L559.7,127.44 L560.2,127.42 L560.7,127.4 L561.2,127.38 L561.7,127.36 L562.2,127.34 L562.7,127.32 L563.2,127.29 L563.7,127.27 L564.2,127.25 L564.7,127.23 L565.2,127.2 L565.7,127.18 L566.2,127.16 L566.7,127.13 L567.2,127.11 L567.7,127.08 L568.2,127.05 L568.7,127.03 L569.2,127 L569.7,126.97 L570.2,126.95 L570.7,126.92 L571.2,126.89 L571.7,126.86 L572.2,126.83 L572.7,126.8 L573.2,126.77 L573.7,126.74 L574.2,126.71 L574.7,126.68 L575.2,126.65 L575.7,126.62 L576.2,126.58 L576.7,126.55 L577.2,126.52 L577.7,126.48 L578.2,126.45 L578.7,126.42 L579.2,126.38 L579.7,126.35 L580.2,126.31 L580.7,126.27 L581.2,126.24 L581.7,126.2 L582.2,126.16 L582.7,126.13 L583.2,126.09 L583.7,126.05 L584.2,126.01 L584.7,125.97 L585.2,125.93 L585.7,125.89 L586.2,125.85 L586.7,125.81 L587.2,125.77 L587.7,125.73 L588.2,125.69 L588.7,125.65 L589.2,125.61 L589.7,125.56 L590.2,125.52 L590.7,125.48 L591.2,125.44 L591.7,125.39 L592.2,125.35 L592.7,125.31 L593.2,125.26 L593.7,125.22 L594.2,125.17 L594.7,125.13 L595.2,125.08 L595.7,125.04 L596.2,125 L596.7,124.95 L597.2,124.91 L597.7,124.86 L598.2,124.82 L598.7,124.77 L599.2,124.72 L599.7,124.68 L600.2,124.63 L600.7,124.59 L601.2,124.54 L601.7,124.5 L602.2,124.45 L602.7,124.41 L603.2,124.36 L603.7,124.32 L604.2,124.27 L604.7,124.23 L605.2,124.18 L605.7,124.14 L606.2,124.09 L606.7,124.05 L607.2,124 L607.7,123.96 L608.2,123.91 L608.7,123.87 L609.2,123.83 L609.7,123.78 L610.2,123.74 L610.7,123.7 L611.2,123.65 L611.7,123.61 L612.2,123.57 L612.7,123.53 L613.2,123.49 L613.7,123.45 L614.2,123.41 L614.7,123.37 L615.2,123.33 L615.7,123.29 L616.2,123.25 L616.7,123.21 L617.2,123.17 L617.7,123.14 L618.2,123.1 L618.7,123.06 L619.2,123.03 L619.7,122.99 L620.2,122.96 L620.7,122.92 L621.2,122.89 L621.7,122.86 L622.2,122.83 L622.7,122.8 L623.2,122.77 L623.7,122.74 L624.2,122.71 L624.7,122.68 L625.2,122.65 L625.7,122.62 L626.2,122.6 L626.7,122.57 L627.2,122.55 L627.7,122.52 L628.2,122.5 L628.7,122.48 L629.2,122.46 L629.7,122.43 L630.2,122.41 L630.7,122.4 L631.2,122.38 L631.7,122.36 L632.2,122.34 L632.7,122.33 L633.2,122.31 L633.7,122.3 L634.2,122.29 L634.7,122.27 L635.2,122.26 L635.7,122.25 L636.2,122.24 L636.7,122.23 L637.2,122.23 L637.7,122.22 L638.2,122.21 L638.7,122.21 L639.2,122.21 L639.7,122.2 L640.2,122.2 L640.7,122.2 L641.2,122.2 L641.7,122.2 L642.2,122.2 L642.7,122.21 L643.2,122.21 L643.7,122.21 L644.2,122.22 L644.7,122.23 L645.2,122.23 L645.7,122.24 L646.2,122.25 L646.7,122.26 L647.2,122.27 L647.7,122.28 L648.2,122.3 L648.7,122.31 L649.2,122.32 L649.7,122.34 L650.2,122.36 L650.7,122.37 L651.2,122.39 L651.7,122.41 L652.2,122.43 L652.7,122.45 L653.2,122.47 L653.7,122.49 L654.2,122.52 L654.7,122.54 L655.2,122.57 L655.7,122.59 L656.2,122.62 L656.7,122.64 L657.2,122.67 L657.7,122.7 L658.2,122.73 L658.7,122.76 L659.2,122.79 L659.7,122.82 L660.2,122.85 L660.7,122.89 L661.2,122.92" fill="none" stroke="#1cf01c" stroke-width="1.25" stroke-linejoin="round"/>
<path d="M515.2,128.2 L661.6,128.2" fill="none" stroke="#1cf01c" stroke-width="1.25" stroke-linejoin="round"/>
<text transform="translate(512.8 16) scale(1.03 1)" font-family='"Liberation Sans", sans-serif' font-size="7.3" font-weight="bold" text-anchor="start" fill="#111">(224.36)</text>
<text transform="translate(535.1 110.3) scale(1.03 1)" font-family='"Liberation Sans", sans-serif' font-size="7.3" font-weight="bold" text-anchor="start" fill="#111">(312.42)</text>
<text transform="translate(627.1 118.4) scale(1.03 1)" font-family='"Liberation Sans", sans-serif' font-size="7.3" font-weight="bold" text-anchor="start" fill="#111">(715.30)</text>
<line x1="582.1" y1="26.4" x2="601.1" y2="26.4" stroke="#222" stroke-width="1.1"/>
<text x="603.6" y="29.2" font-family='"Liberation Sans", sans-serif' font-size="7.6" font-weight="bold" text-anchor="start" fill="#111">GO</text>
<line x1="576.6" y1="34.3" x2="594.5" y2="34.3" stroke="#222" stroke-width="1.1"/>
<text x="596.7" y="36.7" font-family='"Liberation Sans", sans-serif' font-size="6.7" font-weight="bold" text-anchor="start" fill="#111">Experimental data</text>
<line x1="576.6" y1="42.7" x2="594.5" y2="42.7" stroke="#ff6666" stroke-width="1.2"/>
<text x="596.7" y="45.1" font-family='"Liberation Sans", sans-serif' font-size="6.7" font-weight="bold" text-anchor="start" fill="#111">Fitted data</text>
<line x1="576.6" y1="51.1" x2="594.5" y2="51.1" stroke="#1cf01c" stroke-width="1.1"/>
<text x="596.7" y="53.5" font-family='"Liberation Sans", sans-serif' font-size="6.7" font-weight="bold" text-anchor="start" fill="#111">Deconvulated data</text>
<rect x="56.4" y="191.4" width="162.9" height="130.1" fill="none" stroke="#1a1a1a" stroke-width="1.2"/>
<line x1="53.4" y1="197.4" x2="56.4" y2="197.4" stroke="#1a1a1a" stroke-width="1.1"/>
<text transform="translate(51.7 200.17) scale(0.91 1)" font-family='"Liberation Sans", sans-serif' font-size="10.8" font-weight="bold" text-anchor="end" fill="#111">0.20</text>
<line x1="53.4" y1="223.4" x2="56.4" y2="223.4" stroke="#1a1a1a" stroke-width="1.1"/>
<text transform="translate(51.7 226.17) scale(0.91 1)" font-family='"Liberation Sans", sans-serif' font-size="10.8" font-weight="bold" text-anchor="end" fill="#111">0.16</text>
<line x1="53.4" y1="249.4" x2="56.4" y2="249.4" stroke="#1a1a1a" stroke-width="1.1"/>
<text transform="translate(51.7 252.17) scale(0.91 1)" font-family='"Liberation Sans", sans-serif' font-size="10.8" font-weight="bold" text-anchor="end" fill="#111">0.12</text>
<line x1="53.4" y1="275.4" x2="56.4" y2="275.4" stroke="#1a1a1a" stroke-width="1.1"/>
<text transform="translate(51.7 278.17) scale(0.91 1)" font-family='"Liberation Sans", sans-serif' font-size="10.8" font-weight="bold" text-anchor="end" fill="#111">0.08</text>
<line x1="53.4" y1="301.4" x2="56.4" y2="301.4" stroke="#1a1a1a" stroke-width="1.1"/>
<text transform="translate(51.7 304.17) scale(0.91 1)" font-family='"Liberation Sans", sans-serif' font-size="10.8" font-weight="bold" text-anchor="end" fill="#111">0.04</text>
<line x1="54.4" y1="210.4" x2="56.4" y2="210.4" stroke="#1a1a1a" stroke-width="1.1"/>
<line x1="54.4" y1="236.4" x2="56.4" y2="236.4" stroke="#1a1a1a" stroke-width="1.1"/>
<line x1="54.4" y1="262.4" x2="56.4" y2="262.4" stroke="#1a1a1a" stroke-width="1.1"/>
<line x1="54.4" y1="288.4" x2="56.4" y2="288.4" stroke="#1a1a1a" stroke-width="1.1"/>
<line x1="54.4" y1="314.4" x2="56.4" y2="314.4" stroke="#1a1a1a" stroke-width="1.1"/>
<line x1="68" y1="321.5" x2="68" y2="324.5" stroke="#1a1a1a" stroke-width="1.1"/>
<text x="68" y="333.3" font-family='"Liberation Sans", sans-serif' font-size="9.5" font-weight="bold" text-anchor="middle" fill="#111">200</text>
<line x1="90.97" y1="321.5" x2="90.97" y2="324.5" stroke="#1a1a1a" stroke-width="1.1"/>
<text x="90.97" y="333.3" font-family='"Liberation Sans", sans-serif' font-size="9.5" font-weight="bold" text-anchor="middle" fill="#111">300</text>
<line x1="113.94" y1="321.5" x2="113.94" y2="324.5" stroke="#1a1a1a" stroke-width="1.1"/>
<text x="113.94" y="333.3" font-family='"Liberation Sans", sans-serif' font-size="9.5" font-weight="bold" text-anchor="middle" fill="#111">400</text>
<line x1="136.91" y1="321.5" x2="136.91" y2="324.5" stroke="#1a1a1a" stroke-width="1.1"/>
<text x="136.91" y="333.3" font-family='"Liberation Sans", sans-serif' font-size="9.5" font-weight="bold" text-anchor="middle" fill="#111">500</text>
<line x1="159.88" y1="321.5" x2="159.88" y2="324.5" stroke="#1a1a1a" stroke-width="1.1"/>
<text x="159.88" y="333.3" font-family='"Liberation Sans", sans-serif' font-size="9.5" font-weight="bold" text-anchor="middle" fill="#111">600</text>
<line x1="182.85" y1="321.5" x2="182.85" y2="324.5" stroke="#1a1a1a" stroke-width="1.1"/>
<text x="182.85" y="333.3" font-family='"Liberation Sans", sans-serif' font-size="9.5" font-weight="bold" text-anchor="middle" fill="#111">700</text>
<line x1="205.82" y1="321.5" x2="205.82" y2="324.5" stroke="#1a1a1a" stroke-width="1.1"/>
<text x="205.82" y="333.3" font-family='"Liberation Sans", sans-serif' font-size="9.5" font-weight="bold" text-anchor="middle" fill="#111">800</text>
<line x1="79.48" y1="321.5" x2="79.48" y2="323.5" stroke="#1a1a1a" stroke-width="1.1"/>
<line x1="102.45" y1="321.5" x2="102.45" y2="323.5" stroke="#1a1a1a" stroke-width="1.1"/>
<line x1="125.42" y1="321.5" x2="125.42" y2="323.5" stroke="#1a1a1a" stroke-width="1.1"/>
<line x1="148.39" y1="321.5" x2="148.39" y2="323.5" stroke="#1a1a1a" stroke-width="1.1"/>
<line x1="171.37" y1="321.5" x2="171.37" y2="323.5" stroke="#1a1a1a" stroke-width="1.1"/>
<line x1="194.33" y1="321.5" x2="194.33" y2="323.5" stroke="#1a1a1a" stroke-width="1.1"/>
<text x="97.6" y="341.9" font-family='"Liberation Sans", sans-serif' font-size="9.9" font-weight="bold" text-anchor="start" fill="#111">Wavelength / nm</text>
<text x="31" y="263.8" font-family='"Liberation Sans", sans-serif' font-size="10" font-weight="bold" text-anchor="middle" fill="#111" transform="rotate(-90 31 263.8)">Absorbance / a.u.</text>
<text transform="translate(0.5 344.5) scale(0.92 1)" font-family='"Liberation Serif", serif' font-size="18.5" font-weight="normal" text-anchor="start" fill="#111" stroke="#111" stroke-width="0.25">(d)</text>
<path d="M68.6,224 C68.75,224.95 69.17,230.03 69.5,229.7 C69.83,229.37 70.08,225.95 70.6,222 C71.12,218.05 72,209.37 72.6,206 C73.2,202.63 73.68,201.3 74.2,201.8 C74.72,202.3 75.02,203.83 75.7,209 C76.38,214.17 77.5,225.05 78.3,232.8 C79.1,240.55 79.77,248.05 80.5,255.5 C81.23,262.95 82.03,271.5 82.7,277.5 C83.37,283.5 83.92,288.25 84.5,291.5 C85.08,294.75 85.62,295.85 86.2,297 C86.78,298.15 87.03,298.25 88,298.4 C88.97,298.55 90.18,298.08 92,297.9 C93.82,297.72 97.07,297.15 98.9,297.3 C100.73,297.45 101.57,298.08 103,298.8 C104.43,299.52 106,300.63 107.5,301.6 C109,302.57 110.57,303.82 112,304.6 C113.43,305.38 114.27,305.9 116.1,306.3 C117.93,306.7 118.98,307.17 123,307 C127.02,306.83 134.03,306.02 140.2,305.3 C146.37,304.58 154.68,303.47 160,302.7 C165.32,301.93 167.75,301.13 172.1,300.7 C176.45,300.27 183.45,300.17 186.1,300.1 C188.75,300.03 187.5,299.97 188,300.3 C188.5,300.63 188.6,301.95 189.1,302.1 C189.6,302.25 188.15,301.53 191,301.2 C193.85,300.87 203.67,300.28 206.2,300.1" fill="none" stroke="#222" stroke-width="1.25" stroke-linejoin="round" stroke-linecap="round" opacity="1.0"/>
<path d="M82.7,277.5 C83,279.88 83.92,288.42 84.5,291.8 C85.08,295.18 85.62,296.6 86.2,297.8 C86.78,299 87.03,298.87 88,299 C88.97,299.13 90.18,298.78 92,298.6 C93.82,298.42 97.07,297.77 98.9,297.9 C100.73,298.03 101.57,298.67 103,299.4 C104.43,300.13 106,301.33 107.5,302.3 C109,303.27 110.57,304.45 112,305.2 C113.43,305.95 114.27,306.45 116.1,306.8 C117.93,307.15 118.98,307.5 123,307.3 C127.02,307.1 137.33,305.88 140.2,305.6" fill="none" stroke="#ff1a1a" stroke-width="1.25" stroke-linejoin="round" stroke-linecap="round" opacity="1.0"/>
<path d="M68,244.92 L68.5,239.68 L69,234.52 L69.5,229.5 L70,224.7 L70.5,220.2 L71,216.08 L71.5,212.41 L72,209.25 L72.5,206.66 L73,204.69 L73.5,203.38 L74,202.76 L74.5,202.85 L75,203.79 L75.5,205.55 L76,208.1 L76.5,211.38 L77,215.31 L77.5,219.8 L78,224.77 L78.5,230.1 L79,235.69 L79.5,241.44 L80,247.24 L80.5,253.01 L81,258.66 L81.5,264.12 L82,269.33 L82.5,274.22 L83,278.78 L83.5,282.98 L84,286.79 L84.5,290.23 L85,293.29 L85.5,295.99 L86,298.35 L86.5,300.38 L87,302.13 L87.5,303.61 L88,304.85 L88.5,305.88 L89,306.73 L89.5,307.43 L90,308 L90.5,308.45 L91,308.81 L91.5,309.09 L92,309.31" fill="none" stroke="#1cf01c" stroke-width="1.25" stroke-linejoin="round"/>
<path d="M68,310 L68.5,310 L69,310 L69.5,309.99 L70,309.99 L70.5,309.99 L71,309.99 L71.5,309.98 L72,309.98 L72.5,309.98 L73,309.97 L73.5,309.96 L74,309.95 L74.5,309.94 L75,309.92 L75.5,309.91 L76,309.88 L76.5,309.86 L77,309.83 L77.5,309.79 L78,309.75 L78.5,309.7 L79,309.64 L79.5,309.57 L80,309.49 L80.5,309.4 L81,309.29 L81.5,309.17 L82,309.04 L82.5,308.88 L83,308.71 L83.5,308.52 L84,308.3 L84.5,308.07 L85,307.81 L85.5,307.53 L86,307.22 L86.5,306.89 L87,306.54 L87.5,306.16 L88,305.76 L88.5,305.34 L89,304.89 L89.5,304.44 L90,303.97 L90.5,303.48 L91,302.99 L91.5,302.5 L92,302.01 L92.5,301.52 L93,301.05 L93.5,300.59 L94,300.14 L94.5,299.73 L95,299.34 L95.5,298.99 L96,298.68 L96.5,298.41 L97,298.19 L97.5,298.01 L98,297.89 L98.5,297.82 L99,297.8 L99.5,297.83 L100,297.89 L100.5,297.98 L101,298.11 L101.5,298.27 L102,298.46 L102.5,298.68 L103,298.93 L103.5,299.2 L104,299.5 L104.5,299.82 L105,300.16 L105.5,300.52 L106,300.88 L106.5,301.26 L107,301.65 L107.5,302.04 L108,302.44 L108.5,302.84 L109,303.24 L109.5,303.63 L110,304.02 L110.5,304.4 L111,304.77 L111.5,305.13 L112,305.48 L112.5,305.81 L113,306.13 L113.5,306.44 L114,306.73 L114.5,307.01 L115,307.27 L115.5,307.52 L116,307.75 L116.5,307.96 L117,308.16 L117.5,308.35 L118,308.52 L118.5,308.68 L119,308.82 L119.5,308.95 L120,309.07 L120.5,309.18 L121,309.28 L121.5,309.36 L122,309.44 L122.5,309.51 L123,309.58 L123.5,309.63 L124,309.68 L124.5,309.72 L125,309.76 L125.5,309.8 L126,309.83 L126.5,309.85 L127,309.87 L127.5,309.89 L128,309.91 L128.5,309.92 L129,309.94 L129.5,309.95 L130,309.95" fill="none" stroke="#1cf01c" stroke-width="1.25" stroke-linejoin="round"/>
<path d="M68,309.91 L68.5,309.91 L69,309.9 L69.5,309.9 L70,309.9 L70.5,309.89 L71,309.89 L71.5,309.88 L72,309.88 L72.5,309.88 L73,309.87 L73.5,309.87 L74,309.86 L74.5,309.86 L75,309.85 L75.5,309.85 L76,309.84 L76.5,309.84 L77,309.83 L77.5,309.82 L78,309.82 L78.5,309.81 L79,309.8 L79.5,309.8 L80,309.79 L80.5,309.78 L81,309.78 L81.5,309.77 L82,309.76 L82.5,309.75 L83,309.75 L83.5,309.74 L84,309.73 L84.5,309.72 L85,309.71 L85.5,309.7 L86,309.69 L86.5,309.68 L87,309.67 L87.5,309.66 L88,309.65 L88.5,309.64 L89,309.63 L89.5,309.62 L90,309.61 L90.5,309.59 L91,309.58 L91.5,309.57 L92,309.56 L92.5,309.54 L93,309.53 L93.5,309.52 L94,309.5 L94.5,309.49 L95,309.47 L95.5,309.46 L96,309.44 L96.5,309.42 L97,309.41 L97.5,309.39 L98,309.37 L98.5,309.35 L99,309.34 L99.5,309.32 L100,309.3 L100.5,309.28 L101,309.26 L101.5,309.24 L102,309.22 L102.5,309.2 L103,309.17 L103.5,309.15 L104,309.13 L104.5,309.11 L105,309.08 L105.5,309.06 L106,309.03 L106.5,309.01 L107,308.98 L107.5,308.96 L108,308.93 L108.5,308.9 L109,308.88 L109.5,308.85 L110,308.82 L110.5,308.79 L111,308.76 L111.5,308.73 L112,308.7 L112.5,308.67 L113,308.63 L113.5,308.6 L114,308.57 L114.5,308.53 L115,308.5 L115.5,308.46 L116,308.43 L116.5,308.39 L117,308.35 L117.5,308.32 L118,308.28 L118.5,308.24 L119,308.2 L119.5,308.16 L120,308.12 L120.5,308.08 L121,308.04 L121.5,307.99 L122,307.95 L122.5,307.91 L123,307.86 L123.5,307.82 L124,307.77 L124.5,307.72 L125,307.68 L125.5,307.63 L126,307.58 L126.5,307.53 L127,307.48 L127.5,307.43 L128,307.38 L128.5,307.33 L129,307.28 L129.5,307.22 L130,307.17 L130.5,307.12 L131,307.06 L131.5,307.01 L132,306.95 L132.5,306.89 L133,306.84 L133.5,306.78 L134,306.72 L134.5,306.66 L135,306.6 L135.5,306.54 L136,306.48 L136.5,306.42 L137,306.36 L137.5,306.3 L138,306.23 L138.5,306.17 L139,306.11 L139.5,306.04 L140,305.98 L140.5,305.91 L141,305.85 L141.5,305.78 L142,305.72 L142.5,305.65 L143,305.58 L143.5,305.51 L144,305.44 L144.5,305.38 L145,305.31 L145.5,305.24 L146,305.17 L146.5,305.1 L147,305.03 L147.5,304.96 L148,304.89 L148.5,304.81 L149,304.74 L149.5,304.67 L150,304.6 L150.5,304.53 L151,304.46 L151.5,304.38 L152,304.31 L152.5,304.24 L153,304.17 L153.5,304.09 L154,304.02 L154.5,303.95 L155,303.87 L155.5,303.8 L156,303.73 L156.5,303.66 L157,303.58 L157.5,303.51 L158,303.44 L158.5,303.36 L159,303.29 L159.5,303.22 L160,303.15 L160.5,303.08 L161,303.01 L161.5,302.93 L162,302.86 L162.5,302.79 L163,302.72 L163.5,302.65 L164,302.58 L164.5,302.51 L165,302.44 L165.5,302.38 L166,302.31 L166.5,302.24 L167,302.17 L167.5,302.11 L168,302.04 L168.5,301.98 L169,301.91 L169.5,301.85 L170,301.79 L170.5,301.72 L171,301.66 L171.5,301.6 L172,301.54 L172.5,301.48 L173,301.42 L173.5,301.36 L174,301.31 L174.5,301.25 L175,301.19 L175.5,301.14 L176,301.09 L176.5,301.03 L177,300.98 L177.5,300.93 L178,300.88 L178.5,300.83 L179,300.79 L179.5,300.74 L180,300.69 L180.5,300.65 L181,300.61 L181.5,300.56 L182,300.52 L182.5,300.48 L183,300.45 L183.5,300.41 L184,300.37 L184.5,300.34 L185,300.3 L185.5,300.27 L186,300.24 L186.5,300.21 L187,300.18 L187.5,300.16 L188,300.13 L188.5,300.1 L189,300.08 L189.5,300.06 L190,300.04 L190.5,300.02 L191,300 L191.5,299.99 L192,299.97 L192.5,299.96 L193,299.95 L193.5,299.94 L194,299.93 L194.5,299.92 L195,299.91 L195.5,299.91 L196,299.9 L196.5,299.9 L197,299.9 L197.5,299.9 L198,299.9 L198.5,299.9 L199,299.91 L199.5,299.91 L200,299.92 L200.5,299.92 L201,299.93 L201.5,299.94 L202,299.95 L202.5,299.96 L203,299.97 L203.5,299.98 L204,300 L204.5,300.01 L205,300.03 L205.5,300.04" fill="none" stroke="#1cf01c" stroke-width="1.25" stroke-linejoin="round"/>
<path d="M68,310 L205.8,310" fill="none" stroke="#1cf01c" stroke-width="1.25" stroke-linejoin="round"/>
<text transform="translate(63.6 201.5) scale(1.045 1)" font-family='"Liberation Sans", sans-serif' font-size="7.5" font-weight="bold" text-anchor="start" fill="#111">(224.54)</text>
<text transform="translate(88.3 295.1) scale(1.045 1)" font-family='"Liberation Sans", sans-serif' font-size="7.5" font-weight="bold" text-anchor="start" fill="#111">(328.90)</text>
<text transform="translate(181.7 296.8) scale(1.045 1)" font-family='"Liberation Sans", sans-serif' font-size="7.5" font-weight="bold" text-anchor="start" fill="#111">(719.56)</text>
<line x1="116.6" y1="209.1" x2="137.5" y2="209.1" stroke="#333" stroke-width="1.1"/>
<text x="140.1" y="211.6" font-family='"Liberation Sans", sans-serif' font-size="8.0" font-weight="bold" text-anchor="start" fill="#111">g-C<tspan font-size="4.8" dx="0.48" dy="2.56">3</tspan><tspan dx="0" dy="-2.56">N</tspan><tspan font-size="4.8" dx="0.48" dy="2.56">4</tspan><tspan dx="0" dy="-2.56"><tspan stroke="#111" stroke-width="0.12">@</tspan>GO</tspan></text>
<line x1="116.6" y1="219.6" x2="137.5" y2="219.6" stroke="#222" stroke-width="1.1"/>
<text x="140.1" y="222.1" font-family='"Liberation Sans", sans-serif' font-size="8.0" font-weight="bold" text-anchor="start" fill="#111">Experimental data</text>
<line x1="116.6" y1="229.9" x2="137.5" y2="229.9" stroke="#ff1a1a" stroke-width="1.1"/>
<text x="140.1" y="232.4" font-family='"Liberation Sans", sans-serif' font-size="8.0" font-weight="bold" text-anchor="start" fill="#111">Fitted data</text>
<line x1="116.6" y1="239.9" x2="137.5" y2="239.9" stroke="#1cf01c" stroke-width="1.1"/>
<text x="140.1" y="242.4" font-family='"Liberation Sans", sans-serif' font-size="8.0" font-weight="bold" text-anchor="start" fill="#111">Deconvulated data</text>
<rect x="285.2" y="186.8" width="165.7" height="133.2" fill="none" stroke="#1a1a1a" stroke-width="1.2"/>
<line x1="282.2" y1="193.5" x2="285.2" y2="193.5" stroke="#1a1a1a" stroke-width="1.1"/>
<text transform="translate(280.8 196.17) scale(0.9 1)" font-family='"Liberation Sans", sans-serif' font-size="10.8" font-weight="bold" text-anchor="end" fill="#111">0.24</text>
<line x1="282.2" y1="218.8" x2="285.2" y2="218.8" stroke="#1a1a1a" stroke-width="1.1"/>
<text transform="translate(280.8 221.47) scale(0.9 1)" font-family='"Liberation Sans", sans-serif' font-size="10.8" font-weight="bold" text-anchor="end" fill="#111">0.20</text>
<line x1="282.2" y1="244.1" x2="285.2" y2="244.1" stroke="#1a1a1a" stroke-width="1.1"/>
<text transform="translate(280.8 246.77) scale(0.9 1)" font-family='"Liberation Sans", sans-serif' font-size="10.8" font-weight="bold" text-anchor="end" fill="#111">0.16</text>
<line x1="282.2" y1="269.4" x2="285.2" y2="269.4" stroke="#1a1a1a" stroke-width="1.1"/>
<text transform="translate(280.8 272.07) scale(0.9 1)" font-family='"Liberation Sans", sans-serif' font-size="10.8" font-weight="bold" text-anchor="end" fill="#111">0.12</text>
<line x1="282.2" y1="294.7" x2="285.2" y2="294.7" stroke="#1a1a1a" stroke-width="1.1"/>
<text transform="translate(280.8 297.37) scale(0.9 1)" font-family='"Liberation Sans", sans-serif' font-size="10.8" font-weight="bold" text-anchor="end" fill="#111">0.08</text>
<line x1="282.2" y1="320" x2="285.2" y2="320" stroke="#1a1a1a" stroke-width="1.1"/>
<text transform="translate(280.8 322.67) scale(0.9 1)" font-family='"Liberation Sans", sans-serif' font-size="10.8" font-weight="bold" text-anchor="end" fill="#111">0.04</text>
<line x1="283.2" y1="206.15" x2="285.2" y2="206.15" stroke="#1a1a1a" stroke-width="1.1"/>
<line x1="283.2" y1="231.45" x2="285.2" y2="231.45" stroke="#1a1a1a" stroke-width="1.1"/>
<line x1="283.2" y1="256.75" x2="285.2" y2="256.75" stroke="#1a1a1a" stroke-width="1.1"/>
<line x1="283.2" y1="282.05" x2="285.2" y2="282.05" stroke="#1a1a1a" stroke-width="1.1"/>
<line x1="283.2" y1="307.35" x2="285.2" y2="307.35" stroke="#1a1a1a" stroke-width="1.1"/>
<line x1="297.6" y1="320" x2="297.6" y2="323" stroke="#1a1a1a" stroke-width="1.1"/>
<text x="297.6" y="331.8" font-family='"Liberation Sans", sans-serif' font-size="10.1" font-weight="bold" text-anchor="middle" fill="#111">200</text>
<line x1="320.95" y1="320" x2="320.95" y2="323" stroke="#1a1a1a" stroke-width="1.1"/>
<text x="320.95" y="331.8" font-family='"Liberation Sans", sans-serif' font-size="10.1" font-weight="bold" text-anchor="middle" fill="#111">300</text>
<line x1="344.3" y1="320" x2="344.3" y2="323" stroke="#1a1a1a" stroke-width="1.1"/>
<text x="344.3" y="331.8" font-family='"Liberation Sans", sans-serif' font-size="10.1" font-weight="bold" text-anchor="middle" fill="#111">400</text>
<line x1="367.65" y1="320" x2="367.65" y2="323" stroke="#1a1a1a" stroke-width="1.1"/>
<text x="367.65" y="331.8" font-family='"Liberation Sans", sans-serif' font-size="10.1" font-weight="bold" text-anchor="middle" fill="#111">500</text>
<line x1="391" y1="320" x2="391" y2="323" stroke="#1a1a1a" stroke-width="1.1"/>
<text x="391" y="331.8" font-family='"Liberation Sans", sans-serif' font-size="10.1" font-weight="bold" text-anchor="middle" fill="#111">600</text>
<line x1="414.35" y1="320" x2="414.35" y2="323" stroke="#1a1a1a" stroke-width="1.1"/>
<text x="414.35" y="331.8" font-family='"Liberation Sans", sans-serif' font-size="10.1" font-weight="bold" text-anchor="middle" fill="#111">700</text>
<line x1="437.7" y1="320" x2="437.7" y2="323" stroke="#1a1a1a" stroke-width="1.1"/>
<text x="437.7" y="331.8" font-family='"Liberation Sans", sans-serif' font-size="10.1" font-weight="bold" text-anchor="middle" fill="#111">800</text>
<line x1="309.28" y1="320" x2="309.28" y2="322" stroke="#1a1a1a" stroke-width="1.1"/>
<line x1="332.62" y1="320" x2="332.62" y2="322" stroke="#1a1a1a" stroke-width="1.1"/>
<line x1="355.98" y1="320" x2="355.98" y2="322" stroke="#1a1a1a" stroke-width="1.1"/>
<line x1="379.33" y1="320" x2="379.33" y2="322" stroke="#1a1a1a" stroke-width="1.1"/>
<line x1="402.68" y1="320" x2="402.68" y2="322" stroke="#1a1a1a" stroke-width="1.1"/>
<line x1="426.03" y1="320" x2="426.03" y2="322" stroke="#1a1a1a" stroke-width="1.1"/>
<text x="327" y="341.9" font-family='"Liberation Sans", sans-serif' font-size="10.0" font-weight="bold" text-anchor="start" fill="#111">Wavelength / nm</text>
<text x="258.6" y="252.2" font-family='"Liberation Sans", sans-serif' font-size="9.9" font-weight="bold" text-anchor="middle" fill="#111" transform="rotate(-90 258.6 252.2)">Absorbance / a.u.</text>
<text transform="translate(228.9 344.7) scale(0.92 1)" font-family='"Liberation Serif", serif' font-size="18.5" font-weight="normal" text-anchor="start" fill="#111" stroke="#111" stroke-width="0.25">(e)</text>
<path d="M297.7,228.6 C297.82,229.08 298.1,231.93 298.4,231.5 C298.7,231.07 298.98,229.25 299.5,226 C300.02,222.75 300.92,215.67 301.5,212 C302.08,208.33 302.57,205.57 303,204 C303.43,202.43 303.73,202.6 304.1,202.6 C304.47,202.6 304.73,201.97 305.2,204 C305.67,206.03 306.35,210.13 306.9,214.8 C307.45,219.47 308.05,227.42 308.5,232 C308.95,236.58 309.13,239.25 309.6,242.3 C310.07,245.35 310.57,248.28 311.3,250.3 C312.03,252.32 313.13,253.77 314,254.4 C314.87,255.03 315.4,254.15 316.5,254.1 C317.6,254.05 319.23,253.18 320.6,254.1 C321.97,255.02 323.15,258 324.7,259.6 C326.25,261.2 328.52,261.98 329.9,263.7 C331.28,265.42 331.97,267.83 333,269.9 C334.03,271.97 334.9,273.35 336.1,276.1 C337.3,278.85 338.83,282.97 340.2,286.4 C341.57,289.83 342.92,293.78 344.3,296.7 C345.68,299.62 346.95,302.15 348.5,303.9 C350.05,305.65 350.97,306.47 353.6,307.2 C356.23,307.93 360.4,308.42 364.3,308.3 C368.2,308.18 372.6,307.15 377,306.5 C381.4,305.85 386.37,305.02 390.7,304.4 C395.03,303.78 398.98,303.33 403,302.8 C407.02,302.27 410.97,301.62 414.8,301.2 C418.63,300.78 422.18,300.7 426,300.3 C429.82,299.9 435.75,299.05 437.7,298.8" fill="none" stroke="#222" stroke-width="1.25" stroke-linejoin="round" stroke-linecap="round" opacity="1.0"/>
<path d="M304.8,203.5 C305.15,205.38 306.28,210.05 306.9,214.8 C307.52,219.55 308.05,227.42 308.5,232 C308.95,236.58 309.13,239.25 309.6,242.3 C310.07,245.35 310.57,248.28 311.3,250.3 C312.03,252.32 313.13,253.77 314,254.4 C314.87,255.03 315.4,254.15 316.5,254.1 C317.6,254.05 319.23,253.18 320.6,254.1 C321.97,255.02 323.15,258 324.7,259.6 C326.25,261.2 328.52,261.98 329.9,263.7 C331.28,265.42 331.97,267.83 333,269.9 C334.03,271.97 334.9,273.35 336.1,276.1 C337.3,278.85 338.83,282.97 340.2,286.4 C341.57,289.83 342.92,293.78 344.3,296.7 C345.68,299.62 346.95,302.18 348.5,303.9 C350.05,305.62 351.68,306.32 353.6,307 C355.52,307.68 358.93,307.83 360,308" fill="none" stroke="#ff1a1a" stroke-width="1.25" stroke-linejoin="round" stroke-linecap="round" opacity="1.0"/>
<path d="M297.4,239.4 L297.9,235.06 L298.4,230.81 L298.9,226.7 L299.4,222.78 L299.9,219.1 L300.4,215.7 L300.9,212.63 L301.4,209.92 L301.9,207.61 L302.4,205.74 L302.9,204.33 L303.4,203.39 L303.9,202.94 L304.4,203.04 L304.9,203.91 L305.4,205.53 L305.9,207.89 L306.4,210.93 L306.9,214.58 L307.4,218.77 L307.9,223.41 L308.4,228.42 L308.9,233.69 L309.4,239.15 L309.9,244.69 L310.4,250.23 L310.9,255.69 L311.4,261 L311.9,266.11 L312.4,270.96 L312.9,275.51 L313.4,279.74 L313.9,283.62 L314.4,287.16 L314.9,290.34 L315.4,293.18 L315.9,295.69 L316.4,297.89 L316.9,299.8 L317.4,301.44 L317.9,302.84" fill="none" stroke="#1cf01c" stroke-width="1.25" stroke-linejoin="round"/>
<path d="M297.6,309.1 L298.1,309.1 L298.6,309.1 L299.1,309.1 L299.6,309.1 L300.1,309.1 L300.6,309.09 L301.1,309.09 L301.6,309.08 L302.1,309.07 L302.6,309.06 L303.1,309.04 L303.6,309.01 L304.1,308.96 L304.6,308.9 L305.1,308.82 L305.6,308.7 L306.1,308.54 L306.6,308.34 L307.1,308.06 L307.6,307.7 L308.1,307.25 L308.6,306.67 L309.1,305.96 L309.6,305.08 L310.1,304.03 L310.6,302.77 L311.1,301.31 L311.6,299.62 L312.1,297.7 L312.6,295.57 L313.1,293.23 L313.6,290.72 L314.1,288.07 L314.6,285.34 L315.1,282.58 L315.6,279.86 L316.1,277.26 L316.6,274.85 L317.1,272.72 L317.6,270.92 L318.1,269.53 L318.6,268.59 L319.1,268.14 L319.6,268.19 L320.1,268.74 L320.6,269.78 L321.1,271.25 L321.6,273.12 L322.1,275.32 L322.6,277.77 L323.1,280.4 L323.6,283.13 L324.1,285.89 L324.6,288.61 L325.1,291.23 L325.6,293.71 L326.1,296.01 L326.6,298.1 L327.1,299.97 L327.6,301.62 L328.1,303.04 L328.6,304.25 L329.1,305.27 L329.6,306.11 L330.1,306.8 L330.6,307.35 L331.1,307.78 L331.6,308.12 L332.1,308.38 L332.6,308.58 L333.1,308.73 L333.6,308.84 L334.1,308.92 L334.6,308.97 L335.1,309.01 L335.6,309.04 L336.1,309.06 L336.6,309.07 L337.1,309.08 L337.6,309.09 L338.1,309.09 L338.6,309.1 L339.1,309.1 L339.6,309.1 L340.1,309.1 L340.6,309.1 L341.1,309.1 L341.6,309.1 L342.1,309.1 L342.6,309.1 L343.1,309.1 L343.6,309.1 L344.1,309.1 L344.6,309.1" fill="none" stroke="#1cf01c" stroke-width="1.25" stroke-linejoin="round"/>
<path d="M297.6,309.1 L298.1,309.1 L298.6,309.1 L299.1,309.1 L299.6,309.1 L300.1,309.1 L300.6,309.1 L301.1,309.1 L301.6,309.09 L302.1,309.09 L302.6,309.09 L303.1,309.09 L303.6,309.08 L304.1,309.08 L304.6,309.07 L305.1,309.06 L305.6,309.05 L306.1,309.03 L306.6,309.02 L307.1,308.99 L307.6,308.97 L308.1,308.93 L308.6,308.89 L309.1,308.84 L309.6,308.77 L310.1,308.7 L310.6,308.61 L311.1,308.5 L311.6,308.37 L312.1,308.21 L312.6,308.03 L313.1,307.82 L313.6,307.57 L314.1,307.29 L314.6,306.96 L315.1,306.58 L315.6,306.15 L316.1,305.66 L316.6,305.1 L317.1,304.48 L317.6,303.79 L318.1,303.03 L318.6,302.19 L319.1,301.27 L319.6,300.26 L320.1,299.18 L320.6,298.01 L321.1,296.76 L321.6,295.44 L322.1,294.05 L322.6,292.59 L323.1,291.08 L323.6,289.52 L324.1,287.92 L324.6,286.3 L325.1,284.67 L325.6,283.05 L326.1,281.45 L326.6,279.89 L327.1,278.39 L327.6,276.96 L328.1,275.62 L328.6,274.39 L329.1,273.28 L329.6,272.31 L330.1,271.49 L330.6,270.83 L331.1,270.34 L331.6,270.03 L332.1,269.9 L332.6,269.96 L333.1,270.2 L333.6,270.61 L334.1,271.21 L334.6,271.96 L335.1,272.87 L335.6,273.93 L336.1,275.11 L336.6,276.41 L337.1,277.81 L337.6,279.28 L338.1,280.82 L338.6,282.41 L339.1,284.02 L339.6,285.65 L340.1,287.27 L340.6,288.88 L341.1,290.46 L341.6,291.99 L342.1,293.47 L342.6,294.89 L343.1,296.24 L343.6,297.52 L344.1,298.72 L344.6,299.84 L345.1,300.87 L345.6,301.83 L346.1,302.7 L346.6,303.5 L347.1,304.22 L347.6,304.86 L348.1,305.44 L348.6,305.96 L349.1,306.41 L349.6,306.81 L350.1,307.16 L350.6,307.46 L351.1,307.73 L351.6,307.95 L352.1,308.15 L352.6,308.31 L353.1,308.45 L353.6,308.57 L354.1,308.66 L354.6,308.75 L355.1,308.81 L355.6,308.87 L356.1,308.92 L356.6,308.95 L357.1,308.98 L357.6,309.01 L358.1,309.03 L358.6,309.04 L359.1,309.06 L359.6,309.07 L360.1,309.07 L360.6,309.08 L361.1,309.08 L361.6,309.09 L362.1,309.09 L362.6,309.09 L363.1,309.09 L363.6,309.1 L364.1,309.1 L364.6,309.1 L365.1,309.1 L365.6,309.1 L366.1,309.1 L366.6,309.1 L367.1,309.1 L367.6,309.1 L368.1,309.1 L368.6,309.1 L369.1,309.1 L369.6,309.1 L370.1,309.1 L370.6,309.1 L371.1,309.1 L371.6,309.1 L372.1,309.1 L372.6,309.1 L373.1,309.1 L373.6,309.1 L374.1,309.1 L374.6,309.1" fill="none" stroke="#1cf01c" stroke-width="1.25" stroke-linejoin="round"/>
<path d="M297.6,309.1 L298.1,309.1 L298.6,309.09 L299.1,309.09 L299.6,309.09 L300.1,309.09 L300.6,309.09 L301.1,309.09 L301.6,309.09 L302.1,309.09 L302.6,309.09 L303.1,309.09 L303.6,309.09 L304.1,309.09 L304.6,309.09 L305.1,309.09 L305.6,309.09 L306.1,309.09 L306.6,309.09 L307.1,309.09 L307.6,309.09 L308.1,309.09 L308.6,309.09 L309.1,309.08 L309.6,309.08 L310.1,309.08 L310.6,309.08 L311.1,309.08 L311.6,309.08 L312.1,309.08 L312.6,309.08 L313.1,309.08 L313.6,309.08 L314.1,309.07 L314.6,309.07 L315.1,309.07 L315.6,309.07 L316.1,309.07 L316.6,309.07 L317.1,309.07 L317.6,309.06 L318.1,309.06 L318.6,309.06 L319.1,309.06 L319.6,309.06 L320.1,309.06 L320.6,309.05 L321.1,309.05 L321.6,309.05 L322.1,309.05 L322.6,309.04 L323.1,309.04 L323.6,309.04 L324.1,309.04 L324.6,309.03 L325.1,309.03 L325.6,309.03 L326.1,309.02 L326.6,309.02 L327.1,309.02 L327.6,309.01 L328.1,309.01 L328.6,309.01 L329.1,309 L329.6,309 L330.1,308.99 L330.6,308.99 L331.1,308.98 L331.6,308.98 L332.1,308.97 L332.6,308.97 L333.1,308.96 L333.6,308.96 L334.1,308.95 L334.6,308.94 L335.1,308.94 L335.6,308.93 L336.1,308.93 L336.6,308.92 L337.1,308.91 L337.6,308.9 L338.1,308.9 L338.6,308.89 L339.1,308.88 L339.6,308.87 L340.1,308.86 L340.6,308.85 L341.1,308.84 L341.6,308.83 L342.1,308.82 L342.6,308.81 L343.1,308.8 L343.6,308.79 L344.1,308.78 L344.6,308.77 L345.1,308.75 L345.6,308.74 L346.1,308.73 L346.6,308.71 L347.1,308.7 L347.6,308.69 L348.1,308.67 L348.6,308.66 L349.1,308.64 L349.6,308.62 L350.1,308.61 L350.6,308.59 L351.1,308.57 L351.6,308.55 L352.1,308.54 L352.6,308.52 L353.1,308.5 L353.6,308.48 L354.1,308.46 L354.6,308.43 L355.1,308.41 L355.6,308.39 L356.1,308.37 L356.6,308.34 L357.1,308.32 L357.6,308.29 L358.1,308.27 L358.6,308.24 L359.1,308.21 L359.6,308.19 L360.1,308.16 L360.6,308.13 L361.1,308.1 L361.6,308.07 L362.1,308.04 L362.6,308.01 L363.1,307.97 L363.6,307.94 L364.1,307.91 L364.6,307.87 L365.1,307.84 L365.6,307.8 L366.1,307.76 L366.6,307.72 L367.1,307.68 L367.6,307.65 L368.1,307.6 L368.6,307.56 L369.1,307.52 L369.6,307.48 L370.1,307.43 L370.6,307.39 L371.1,307.34 L371.6,307.3 L372.1,307.25 L372.6,307.2 L373.1,307.15 L373.6,307.1 L374.1,307.05 L374.6,307 L375.1,306.95 L375.6,306.89 L376.1,306.84 L376.6,306.78 L377.1,306.73 L377.6,306.67 L378.1,306.61 L378.6,306.55 L379.1,306.49 L379.6,306.43 L380.1,306.37 L380.6,306.31 L381.1,306.25 L381.6,306.18 L382.1,306.12 L382.6,306.05 L383.1,305.98 L383.6,305.92 L384.1,305.85 L384.6,305.78 L385.1,305.71 L385.6,305.64 L386.1,305.57 L386.6,305.49 L387.1,305.42 L387.6,305.35 L388.1,305.27 L388.6,305.2 L389.1,305.12 L389.6,305.04 L390.1,304.97 L390.6,304.89 L391.1,304.81 L391.6,304.73 L392.1,304.65 L392.6,304.57 L393.1,304.49 L393.6,304.4 L394.1,304.32 L394.6,304.24 L395.1,304.16 L395.6,304.07 L396.1,303.99 L396.6,303.9 L397.1,303.82 L397.6,303.73 L398.1,303.65 L398.6,303.56 L399.1,303.47 L399.6,303.39 L400.1,303.3 L400.6,303.21 L401.1,303.12 L401.6,303.04 L402.1,302.95 L402.6,302.86 L403.1,302.77 L403.6,302.69 L404.1,302.6 L404.6,302.51 L405.1,302.42 L405.6,302.34 L406.1,302.25 L406.6,302.16 L407.1,302.08 L407.6,301.99 L408.1,301.9 L408.6,301.82 L409.1,301.73 L409.6,301.65 L410.1,301.56 L410.6,301.48 L411.1,301.4 L411.6,301.32 L412.1,301.23 L412.6,301.15 L413.1,301.07 L413.6,300.99 L414.1,300.91 L414.6,300.83 L415.1,300.76 L415.6,300.68 L416.1,300.6 L416.6,300.53 L417.1,300.46 L417.6,300.38 L418.1,300.31 L418.6,300.24 L419.1,300.17 L419.6,300.11 L420.1,300.04 L420.6,299.97 L421.1,299.91 L421.6,299.85 L422.1,299.79 L422.6,299.73 L423.1,299.67 L423.6,299.61 L424.1,299.55 L424.6,299.5 L425.1,299.45 L425.6,299.4 L426.1,299.35 L426.6,299.3 L427.1,299.25 L427.6,299.21 L428.1,299.17 L428.6,299.13 L429.1,299.09 L429.6,299.05 L430.1,299.01 L430.6,298.98 L431.1,298.95 L431.6,298.92 L432.1,298.89 L432.6,298.86 L433.1,298.84 L433.6,298.82 L434.1,298.8 L434.6,298.78 L435.1,298.76 L435.6,298.75 L436.1,298.73 L436.6,298.72 L437.1,298.71 L437.6,298.71" fill="none" stroke="#1cf01c" stroke-width="1.25" stroke-linejoin="round"/>
<path d="M297.6,309.1 L437.7,309.1" fill="none" stroke="#1cf01c" stroke-width="1.25" stroke-linejoin="round"/>
<text transform="translate(292.7 198.6) scale(1.045 1)" font-family='"Liberation Sans", sans-serif' font-size="7.5" font-weight="bold" text-anchor="start" fill="#111">(226.37)</text>
<text transform="translate(313.4 251) scale(1.045 1)" font-family='"Liberation Sans", sans-serif' font-size="7.5" font-weight="bold" text-anchor="start" fill="#111">(294.02)</text>
<text transform="translate(330.6 263.9) scale(1.045 1)" font-family='"Liberation Sans", sans-serif' font-size="7.5" font-weight="bold" text-anchor="start" fill="#111">(347.30)</text>
<text transform="translate(417.2 296) scale(1.045 1)" font-family='"Liberation Sans", sans-serif' font-size="7.5" font-weight="bold" text-anchor="start" fill="#111">(806.76)</text>
<text x="362.2" y="198.6" font-family='"Liberation Sans", sans-serif' font-size="7.6" font-weight="bold" text-anchor="start" fill="#111">g-C<tspan font-size="4.56" dx="0.46" dy="2.43">3</tspan><tspan dx="0" dy="-2.43">N</tspan><tspan font-size="4.56" dx="0.46" dy="2.43">4</tspan><tspan dx="0" dy="-2.43"><tspan stroke="#111" stroke-width="0.12">@</tspan>r-GO(AA)</tspan></text>
<line x1="354.2" y1="207.2" x2="374.3" y2="207.2" stroke="#444" stroke-width="1.1"/>
<text x="376.6" y="209.9" font-family='"Liberation Sans", sans-serif' font-size="7.6" font-weight="bold" text-anchor="start" fill="#111">Experimental data</text>
<line x1="354.2" y1="216.7" x2="374.3" y2="216.7" stroke="#ff1a1a" stroke-width="1.1"/>
<text x="376.6" y="219.4" font-family='"Liberation Sans", sans-serif' font-size="7.6" font-weight="bold" text-anchor="start" fill="#111">Fitted data</text>
<line x1="354.2" y1="226.3" x2="374.3" y2="226.3" stroke="#1cf01c" stroke-width="1.1"/>
<text x="376.6" y="229" font-family='"Liberation Sans", sans-serif' font-size="7.6" font-weight="bold" text-anchor="start" fill="#111">Deconvulated data</text>
<rect x="520.5" y="191.3" width="158" height="128.7" fill="none" stroke="#1a1a1a" stroke-width="1.2"/>
<line x1="517.5" y1="196.9" x2="520.5" y2="196.9" stroke="#1a1a1a" stroke-width="1.1"/>
<text transform="translate(516.1 200.29) scale(0.93 1)" font-family='"Liberation Sans", sans-serif' font-size="10.3" font-weight="bold" text-anchor="end" fill="#111">0.20</text>
<line x1="517.5" y1="223" x2="520.5" y2="223" stroke="#1a1a1a" stroke-width="1.1"/>
<text transform="translate(516.1 226.39) scale(0.93 1)" font-family='"Liberation Sans", sans-serif' font-size="10.3" font-weight="bold" text-anchor="end" fill="#111">0.16</text>
<line x1="517.5" y1="249.1" x2="520.5" y2="249.1" stroke="#1a1a1a" stroke-width="1.1"/>
<text transform="translate(516.1 252.49) scale(0.93 1)" font-family='"Liberation Sans", sans-serif' font-size="10.3" font-weight="bold" text-anchor="end" fill="#111">0.12</text>
<line x1="517.5" y1="275.2" x2="520.5" y2="275.2" stroke="#1a1a1a" stroke-width="1.1"/>
<text transform="translate(516.1 278.59) scale(0.93 1)" font-family='"Liberation Sans", sans-serif' font-size="10.3" font-weight="bold" text-anchor="end" fill="#111">0.08</text>
<line x1="517.5" y1="301.3" x2="520.5" y2="301.3" stroke="#1a1a1a" stroke-width="1.1"/>
<text transform="translate(516.1 304.69) scale(0.93 1)" font-family='"Liberation Sans", sans-serif' font-size="10.3" font-weight="bold" text-anchor="end" fill="#111">0.04</text>
<line x1="518.5" y1="209.95" x2="520.5" y2="209.95" stroke="#1a1a1a" stroke-width="1.1"/>
<line x1="518.5" y1="236.05" x2="520.5" y2="236.05" stroke="#1a1a1a" stroke-width="1.1"/>
<line x1="518.5" y1="262.15" x2="520.5" y2="262.15" stroke="#1a1a1a" stroke-width="1.1"/>
<line x1="518.5" y1="288.25" x2="520.5" y2="288.25" stroke="#1a1a1a" stroke-width="1.1"/>
<line x1="518.5" y1="314.35" x2="520.5" y2="314.35" stroke="#1a1a1a" stroke-width="1.1"/>
<line x1="522.5" y1="320" x2="522.5" y2="323" stroke="#1a1a1a" stroke-width="1.1"/>
<text x="522.5" y="331.8" font-family='"Liberation Sans", sans-serif' font-size="9.9" font-weight="bold" text-anchor="middle" fill="#111">200</text>
<line x1="548.25" y1="320" x2="548.25" y2="323" stroke="#1a1a1a" stroke-width="1.1"/>
<text x="548.25" y="331.8" font-family='"Liberation Sans", sans-serif' font-size="9.9" font-weight="bold" text-anchor="middle" fill="#111">300</text>
<line x1="574" y1="320" x2="574" y2="323" stroke="#1a1a1a" stroke-width="1.1"/>
<text x="574" y="331.8" font-family='"Liberation Sans", sans-serif' font-size="9.9" font-weight="bold" text-anchor="middle" fill="#111">400</text>
<line x1="599.75" y1="320" x2="599.75" y2="323" stroke="#1a1a1a" stroke-width="1.1"/>
<text x="599.75" y="331.8" font-family='"Liberation Sans", sans-serif' font-size="9.9" font-weight="bold" text-anchor="middle" fill="#111">500</text>
<line x1="625.5" y1="320" x2="625.5" y2="323" stroke="#1a1a1a" stroke-width="1.1"/>
<text x="625.5" y="331.8" font-family='"Liberation Sans", sans-serif' font-size="9.9" font-weight="bold" text-anchor="middle" fill="#111">600</text>
<line x1="651.25" y1="320" x2="651.25" y2="323" stroke="#1a1a1a" stroke-width="1.1"/>
<text x="651.25" y="331.8" font-family='"Liberation Sans", sans-serif' font-size="9.9" font-weight="bold" text-anchor="middle" fill="#111">700</text>
<line x1="677" y1="320" x2="677" y2="323" stroke="#1a1a1a" stroke-width="1.1"/>
<text x="677" y="331.8" font-family='"Liberation Sans", sans-serif' font-size="9.9" font-weight="bold" text-anchor="middle" fill="#111">800</text>
<line x1="535.38" y1="320" x2="535.38" y2="322" stroke="#1a1a1a" stroke-width="1.1"/>
<line x1="561.12" y1="320" x2="561.12" y2="322" stroke="#1a1a1a" stroke-width="1.1"/>
<line x1="586.88" y1="320" x2="586.88" y2="322" stroke="#1a1a1a" stroke-width="1.1"/>
<line x1="612.62" y1="320" x2="612.62" y2="322" stroke="#1a1a1a" stroke-width="1.1"/>
<line x1="638.38" y1="320" x2="638.38" y2="322" stroke="#1a1a1a" stroke-width="1.1"/>
<line x1="664.12" y1="320" x2="664.12" y2="322" stroke="#1a1a1a" stroke-width="1.1"/>
<text x="566.8" y="341.9" font-family='"Liberation Sans", sans-serif' font-size="9.65" font-weight="bold" text-anchor="start" fill="#111">Wavelength / nm</text>
<text x="492.7" y="257.4" font-family='"Liberation Sans", sans-serif' font-size="9.7" font-weight="bold" text-anchor="middle" fill="#111" transform="rotate(-90 492.7 257.4)">Absorbance / a.u.</text>
<text transform="translate(466.9 344.5) scale(0.95 1)" font-family='"Liberation Serif", serif' font-size="18.5" font-weight="normal" text-anchor="start" fill="#111" stroke="#111" stroke-width="0.3">(f)</text>
<path d="M523.1,220.9 C523.25,221.35 523.6,224.42 524,223.6 C524.4,222.78 524.97,219.25 525.5,216 C526.03,212.75 526.7,207.43 527.2,204.1 C527.7,200.77 528.12,197.8 528.5,196 C528.88,194.2 529.18,193.38 529.5,193.3 C529.82,193.22 530.13,194.08 530.4,195.5 C530.67,196.92 530.68,198.07 531.1,201.8 C531.52,205.53 532.22,211.38 532.9,217.9 C533.58,224.42 534.43,235.15 535.2,240.9 C535.97,246.65 536.73,248.95 537.5,252.4 C538.27,255.85 539.03,259.35 539.8,261.6 C540.57,263.85 541.13,265.07 542.1,265.9 C543.07,266.73 544.75,266.5 545.6,266.6 C546.45,266.7 546.28,265.32 547.2,266.5 C548.12,267.68 549.38,271 551.1,273.7 C552.82,276.4 555.78,280.77 557.5,282.7 C559.22,284.63 559.88,283.8 561.4,285.3 C562.92,286.8 564.88,289 566.6,291.7 C568.32,294.4 569.77,298.73 571.7,301.5 C573.63,304.27 575.98,306.93 578.2,308.3 C580.42,309.67 582.55,309.37 585,309.7 C587.45,310.03 588.62,310.42 592.9,310.3 C597.18,310.18 605.35,309.47 610.7,309 C616.05,308.53 620.73,307.88 625,307.5 C629.27,307.12 631.45,306.75 636.3,306.7 C641.15,306.65 650.7,306.6 654.1,307.2 C657.5,307.8 655.72,309.9 656.7,310.3 C657.68,310.7 656.62,309.92 660,309.6 C663.38,309.28 674.17,308.6 677,308.4" fill="none" stroke="#222" stroke-width="1.25" stroke-linejoin="round" stroke-linecap="round" opacity="1.0"/>
<path d="M535.2,240.9 C535.58,242.82 536.73,248.95 537.5,252.4 C538.27,255.85 539.03,259.35 539.8,261.6 C540.57,263.85 541.13,265.07 542.1,265.9 C543.07,266.73 544.75,266.5 545.6,266.6 C546.45,266.7 546.28,265.32 547.2,266.5 C548.12,267.68 549.38,271 551.1,273.7 C552.82,276.4 555.78,280.77 557.5,282.7 C559.22,284.63 559.88,283.8 561.4,285.3 C562.92,286.8 564.88,289 566.6,291.7 C568.32,294.4 569.77,298.73 571.7,301.5 C573.63,304.27 575.98,306.93 578.2,308.3 C580.42,309.67 582.63,309.38 585,309.7 C587.37,310.02 591.17,310.12 592.4,310.2" fill="none" stroke="#ff1a1a" stroke-width="1.25" stroke-linejoin="round" stroke-linecap="round" opacity="1.0"/>
<path d="M522.6,238.66 L523.1,233.27 L523.6,227.95 L524.1,222.79 L524.6,217.85 L525.1,213.21 L525.6,208.93 L526.1,205.09 L526.6,201.74 L527.1,198.95 L527.6,196.76 L528.1,195.21 L528.6,194.32 L529.1,194.11 L529.6,194.55 L530.1,195.61 L530.6,197.27 L531.1,199.5 L531.6,202.28 L532.1,205.55 L532.6,209.27 L533.1,213.38 L533.6,217.82 L534.1,222.54 L534.6,227.46 L535.1,232.53 L535.6,237.67 L536.1,242.84 L536.6,247.98 L537.1,253.04 L537.6,257.96 L538.1,262.72 L538.6,267.28 L539.1,271.6 L539.6,275.68 L540.1,279.49 L540.6,283.03 L541.1,286.28 L541.6,289.26 L542.1,291.96 L542.6,294.4 L543.1,296.58 L543.6,298.53 L544.1,300.24 L544.6,301.75 L545.1,303.07 L545.6,304.21 L546.1,305.19 L546.6,306.03 L547.1,306.74 L547.6,307.35 L548.1,307.85 L548.6,308.28 L549.1,308.63 L549.6,308.92 L550.1,309.16 L550.6,309.35 L551.1,309.51 L551.6,309.64" fill="none" stroke="#1cf01c" stroke-width="1.25" stroke-linejoin="round"/>
<path d="M522.6,310.1 L523.1,310.1 L523.6,310.1 L524.1,310.1 L524.6,310.1 L525.1,310.1 L525.6,310.1 L526.1,310.1 L526.6,310.1 L527.1,310.09 L527.6,310.09 L528.1,310.08 L528.6,310.08 L529.1,310.07 L529.6,310.05 L530.1,310.03 L530.6,309.99 L531.1,309.95 L531.6,309.89 L532.1,309.81 L532.6,309.71 L533.1,309.57 L533.6,309.39 L534.1,309.16 L534.6,308.86 L535.1,308.5 L535.6,308.04 L536.1,307.49 L536.6,306.83 L537.1,306.04 L537.6,305.11 L538.1,304.04 L538.6,302.83 L539.1,301.46 L539.6,299.94 L540.1,298.28 L540.6,296.51 L541.1,294.64 L541.6,292.69 L542.1,290.72 L542.6,288.76 L543.1,286.84 L543.6,285.04 L544.1,283.38 L544.6,281.92 L545.1,280.7 L545.6,279.76 L546.1,279.13 L546.6,278.83 L547.1,278.86 L547.6,279.23 L548.1,279.93 L548.6,280.93 L549.1,282.19 L549.6,283.7 L550.1,285.39 L550.6,287.22 L551.1,289.15 L551.6,291.12 L552.1,293.09 L552.6,295.02 L553.1,296.87 L553.6,298.63 L554.1,300.25 L554.6,301.74 L555.1,303.08 L555.6,304.27 L556.1,305.31 L556.6,306.21 L557.1,306.97 L557.6,307.61 L558.1,308.14 L558.6,308.58 L559.1,308.93 L559.6,309.21 L560.1,309.43 L560.6,309.6 L561.1,309.73 L561.6,309.83 L562.1,309.91 L562.6,309.96 L563.1,310 L563.6,310.03 L564.1,310.05 L564.6,310.07 L565.1,310.08 L565.6,310.09 L566.1,310.09 L566.6,310.09 L567.1,310.1 L567.6,310.1 L568.1,310.1 L568.6,310.1 L569.1,310.1 L569.6,310.1" fill="none" stroke="#1cf01c" stroke-width="1.25" stroke-linejoin="round"/>
<path d="M522.6,310.1 L523.1,310.1 L523.6,310.1 L524.1,310.1 L524.6,310.1 L525.1,310.1 L525.6,310.09 L526.1,310.09 L526.6,310.09 L527.1,310.09 L527.6,310.08 L528.1,310.08 L528.6,310.08 L529.1,310.07 L529.6,310.06 L530.1,310.05 L530.6,310.04 L531.1,310.03 L531.6,310.01 L532.1,309.99 L532.6,309.97 L533.1,309.94 L533.6,309.91 L534.1,309.87 L534.6,309.83 L535.1,309.78 L535.6,309.72 L536.1,309.65 L536.6,309.56 L537.1,309.47 L537.6,309.36 L538.1,309.24 L538.6,309.1 L539.1,308.94 L539.6,308.75 L540.1,308.55 L540.6,308.32 L541.1,308.06 L541.6,307.78 L542.1,307.46 L542.6,307.11 L543.1,306.73 L543.6,306.31 L544.1,305.86 L544.6,305.36 L545.1,304.82 L545.6,304.25 L546.1,303.63 L546.6,302.98 L547.1,302.28 L547.6,301.55 L548.1,300.78 L548.6,299.98 L549.1,299.14 L549.6,298.28 L550.1,297.4 L550.6,296.49 L551.1,295.57 L551.6,294.64 L552.1,293.71 L552.6,292.78 L553.1,291.87 L553.6,290.97 L554.1,290.1 L554.6,289.26 L555.1,288.45 L555.6,287.7 L556.1,287 L556.6,286.36 L557.1,285.79 L557.6,285.28 L558.1,284.86 L558.6,284.52 L559.1,284.26 L559.6,284.09 L560.1,284.01 L560.6,284.02 L561.1,284.12 L561.6,284.33 L562.1,284.62 L562.6,285.01 L563.1,285.48 L563.6,286.03 L564.1,286.66 L564.6,287.35 L565.1,288.11 L565.6,288.92 L566.1,289.78 L566.6,290.67 L567.1,291.59 L567.6,292.54 L568.1,293.5 L568.6,294.46 L569.1,295.43 L569.6,296.38 L570.1,297.32 L570.6,298.24 L571.1,299.14 L571.6,300 L572.1,300.83 L572.6,301.63 L573.1,302.38 L573.6,303.1 L574.1,303.77 L574.6,304.4 L575.1,304.98 L575.6,305.52 L576.1,306.02 L576.6,306.48 L577.1,306.9 L577.6,307.28 L578.1,307.63 L578.6,307.94 L579.1,308.22 L579.6,308.46 L580.1,308.69 L580.6,308.88 L581.1,309.05 L581.6,309.21 L582.1,309.34 L582.6,309.45 L583.1,309.55 L583.6,309.64 L584.1,309.71 L584.6,309.78 L585.1,309.83 L585.6,309.88 L586.1,309.92 L586.6,309.95 L587.1,309.97 L587.6,310 L588.1,310.02 L588.6,310.03 L589.1,310.05 L589.6,310.06 L590.1,310.06 L590.6,310.07 L591.1,310.08 L591.6,310.08 L592.1,310.09 L592.6,310.09 L593.1,310.09 L593.6,310.09 L594.1,310.09 L594.6,310.1 L595.1,310.1 L595.6,310.1 L596.1,310.1 L596.6,310.1 L597.1,310.1 L597.6,310.1 L598.1,310.1 L598.6,310.1 L599.1,310.1 L599.6,310.1" fill="none" stroke="#1cf01c" stroke-width="1.25" stroke-linejoin="round"/>
<path d="M522.6,310.1 L523.1,310.1 L523.6,310.1 L524.1,310.1 L524.6,310.1 L525.1,310.1 L525.6,310.1 L526.1,310.1 L526.6,310.1 L527.1,310.1 L527.6,310.1 L528.1,310.1 L528.6,310.1 L529.1,310.1 L529.6,310.1 L530.1,310.1 L530.6,310.1 L531.1,310.1 L531.6,310.1 L532.1,310.1 L532.6,310.1 L533.1,310.1 L533.6,310.1 L534.1,310.1 L534.6,310.1 L535.1,310.1 L535.6,310.1 L536.1,310.1 L536.6,310.1 L537.1,310.1 L537.6,310.1 L538.1,310.1 L538.6,310.1 L539.1,310.1 L539.6,310.1 L540.1,310.1 L540.6,310.1 L541.1,310.1 L541.6,310.1 L542.1,310.1 L542.6,310.1 L543.1,310.1 L543.6,310.1 L544.1,310.1 L544.6,310.1 L545.1,310.1 L545.6,310.1 L546.1,310.1 L546.6,310.1 L547.1,310.1 L547.6,310.1 L548.1,310.1 L548.6,310.1 L549.1,310.1 L549.6,310.1 L550.1,310.1 L550.6,310.1 L551.1,310.1 L551.6,310.1 L552.1,310.1 L552.6,310.1 L553.1,310.1 L553.6,310.1 L554.1,310.1 L554.6,310.1 L555.1,310.1 L555.6,310.1 L556.1,310.1 L556.6,310.1 L557.1,310.1 L557.6,310.1 L558.1,310.1 L558.6,310.1 L559.1,310.1 L559.6,310.1 L560.1,310.1 L560.6,310.1 L561.1,310.1 L561.6,310.1 L562.1,310.1 L562.6,310.1 L563.1,310.1 L563.6,310.1 L564.1,310.1 L564.6,310.1 L565.1,310.1 L565.6,310.1 L566.1,310.1 L566.6,310.1 L567.1,310.1 L567.6,310.1 L568.1,310.1 L568.6,310.1 L569.1,310.1 L569.6,310.1 L570.1,310.1 L570.6,310.1 L571.1,310.09 L571.6,310.09 L572.1,310.09 L572.6,310.09 L573.1,310.09 L573.6,310.09 L574.1,310.09 L574.6,310.09 L575.1,310.09 L575.6,310.09 L576.1,310.09 L576.6,310.09 L577.1,310.08 L577.6,310.08 L578.1,310.08 L578.6,310.08 L579.1,310.08 L579.6,310.07 L580.1,310.07 L580.6,310.07 L581.1,310.07 L581.6,310.06 L582.1,310.06 L582.6,310.06 L583.1,310.05 L583.6,310.05 L584.1,310.05 L584.6,310.04 L585.1,310.04 L585.6,310.03 L586.1,310.03 L586.6,310.02 L587.1,310.02 L587.6,310.01 L588.1,310 L588.6,309.99 L589.1,309.99 L589.6,309.98 L590.1,309.97 L590.6,309.96 L591.1,309.95 L591.6,309.94 L592.1,309.93 L592.6,309.91 L593.1,309.9 L593.6,309.89 L594.1,309.87 L594.6,309.86 L595.1,309.84 L595.6,309.83 L596.1,309.81 L596.6,309.79 L597.1,309.77 L597.6,309.75 L598.1,309.73 L598.6,309.71 L599.1,309.68 L599.6,309.66 L600.1,309.63 L600.6,309.61 L601.1,309.58 L601.6,309.55 L602.1,309.52 L602.6,309.49 L603.1,309.46 L603.6,309.43 L604.1,309.39 L604.6,309.36 L605.1,309.32 L605.6,309.28 L606.1,309.24 L606.6,309.2 L607.1,309.16 L607.6,309.12 L608.1,309.08 L608.6,309.03 L609.1,308.99 L609.6,308.94 L610.1,308.89 L610.6,308.84 L611.1,308.79 L611.6,308.74 L612.1,308.69 L612.6,308.64 L613.1,308.59 L613.6,308.53 L614.1,308.48 L614.6,308.42 L615.1,308.37 L615.6,308.31 L616.1,308.25 L616.6,308.2 L617.1,308.14 L617.6,308.08 L618.1,308.03 L618.6,307.97 L619.1,307.91 L619.6,307.85 L620.1,307.8 L620.6,307.74 L621.1,307.69 L621.6,307.63 L622.1,307.58 L622.6,307.52 L623.1,307.47 L623.6,307.42 L624.1,307.37 L624.6,307.32 L625.1,307.27 L625.6,307.22 L626.1,307.18 L626.6,307.13 L627.1,307.09 L627.6,307.05 L628.1,307.01 L628.6,306.98 L629.1,306.94 L629.6,306.91 L630.1,306.88 L630.6,306.85 L631.1,306.82 L631.6,306.8 L632.1,306.78 L632.6,306.76 L633.1,306.74 L633.6,306.73 L634.1,306.72 L634.6,306.71 L635.1,306.7 L635.6,306.7 L636.1,306.7 L636.6,306.7 L637.1,306.71 L637.6,306.71 L638.1,306.72 L638.6,306.74 L639.1,306.75 L639.6,306.77 L640.1,306.79 L640.6,306.81 L641.1,306.83 L641.6,306.86 L642.1,306.89 L642.6,306.92 L643.1,306.95 L643.6,306.99 L644.1,307.03 L644.6,307.07 L645.1,307.11 L645.6,307.15 L646.1,307.2 L646.6,307.24 L647.1,307.29 L647.6,307.34 L648.1,307.39 L648.6,307.44 L649.1,307.49 L649.6,307.54 L650.1,307.6 L650.6,307.65 L651.1,307.71 L651.6,307.76 L652.1,307.82 L652.6,307.88 L653.1,307.93 L653.6,307.99 L654.1,308.05 L654.6,308.11 L655.1,308.16 L655.6,308.22 L656.1,308.28 L656.6,308.33 L657.1,308.39 L657.6,308.45 L658.1,308.5 L658.6,308.55 L659.1,308.61 L659.6,308.66 L660.1,308.71 L660.6,308.76 L661.1,308.81 L661.6,308.86 L662.1,308.91 L662.6,308.96 L663.1,309.01 L663.6,309.05 L664.1,309.09 L664.6,309.14 L665.1,309.18 L665.6,309.22 L666.1,309.26 L666.6,309.3 L667.1,309.34 L667.6,309.37 L668.1,309.41 L668.6,309.44 L669.1,309.47 L669.6,309.5 L670.1,309.53 L670.6,309.56 L671.1,309.59 L671.6,309.62 L672.1,309.64 L672.6,309.67 L673.1,309.69 L673.6,309.72 L674.1,309.74 L674.6,309.76 L675.1,309.78 L675.6,309.8 L676.1,309.82 L676.6,309.83" fill="none" stroke="#1cf01c" stroke-width="1.25" stroke-linejoin="round"/>
<path d="M522.6,310.1 L676.6,310.1" fill="none" stroke="#1cf01c" stroke-width="1.25" stroke-linejoin="round"/>
<text transform="translate(533.6 199.8) scale(1.04 1)" font-family='"Liberation Sans", sans-serif' font-size="7.4" font-weight="bold" text-anchor="start" fill="#111">(226.34)</text>
<text transform="translate(542.1 264.8) scale(1.04 1)" font-family='"Liberation Sans", sans-serif' font-size="7.4" font-weight="bold" text-anchor="start" fill="#111">(293.39)</text>
<text transform="translate(557 280.2) scale(1.04 1)" font-family='"Liberation Sans", sans-serif' font-size="7.4" font-weight="bold" text-anchor="start" fill="#111">(341.11)</text>
<text transform="translate(626 302.8) scale(1.04 1)" font-family='"Liberation Sans", sans-serif' font-size="7.4" font-weight="bold" text-anchor="start" fill="#111">(650.82)</text>
<line x1="574.3" y1="212.7" x2="593.2" y2="212.7" stroke="#333" stroke-width="1.1"/>
<text x="595.8" y="215.4" font-family='"Liberation Sans", sans-serif' font-size="7.4" font-weight="bold" text-anchor="start" fill="#111">g-C<tspan font-size="4.44" dx="0.44" dy="2.37">3</tspan><tspan dx="0" dy="-2.37">N</tspan><tspan font-size="4.44" dx="0.44" dy="2.37">4</tspan><tspan dx="0" dy="-2.37"><tspan stroke="#111" stroke-width="0.12">@</tspan>r-GO(NaBH</tspan><tspan font-size="4.44" dx="0.44" dy="2.37">4</tspan><tspan dx="0" dy="-2.37">)</tspan></text>
<line x1="574.3" y1="222.6" x2="593.2" y2="222.6" stroke="#555" stroke-width="1.1"/>
<text x="595.8" y="225.3" font-family='"Liberation Sans", sans-serif' font-size="7.4" font-weight="bold" text-anchor="start" fill="#111">Experimental data</text>
<line x1="574.3" y1="232.1" x2="593.2" y2="232.1" stroke="#ff1a1a" stroke-width="1.1"/>
<text x="595.8" y="234.8" font-family='"Liberation Sans", sans-serif' font-size="7.4" font-weight="bold" text-anchor="start" fill="#111">Fitted data</text>
<line x1="574.3" y1="241.3" x2="593.2" y2="241.3" stroke="#1cf01c" stroke-width="1.1"/>
<text x="595.8" y="244" font-family='"Liberation Sans", sans-serif' font-size="7.4" font-weight="bold" text-anchor="start" fill="#111">Deconvulated data</text></svg>
</body></html>
